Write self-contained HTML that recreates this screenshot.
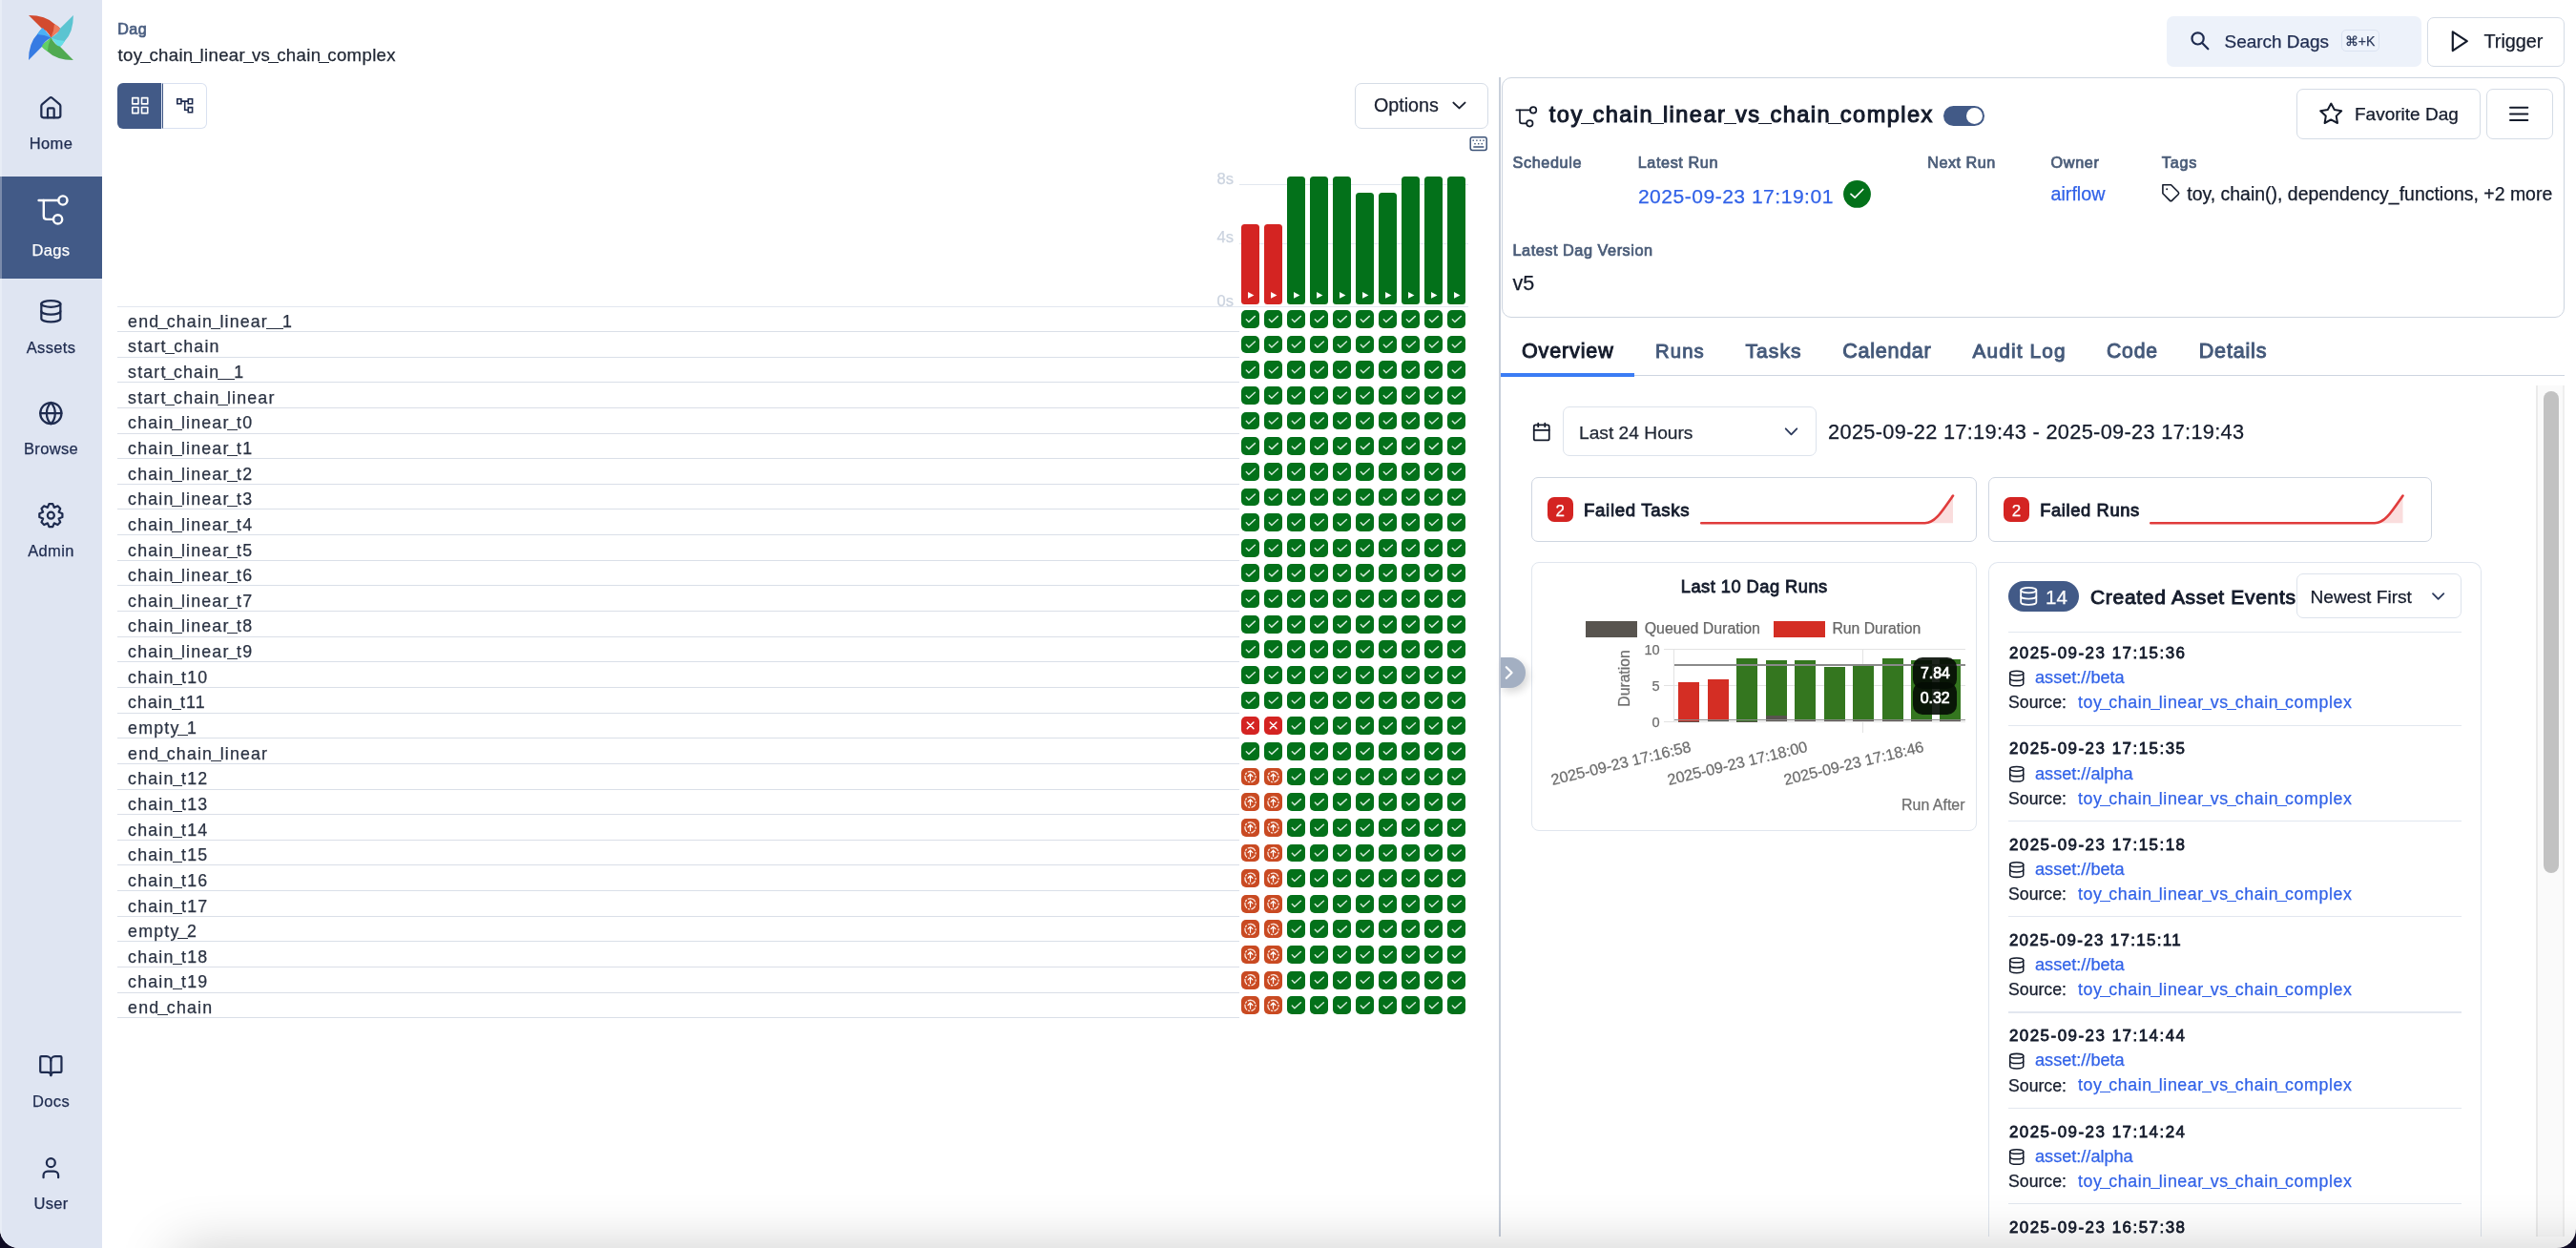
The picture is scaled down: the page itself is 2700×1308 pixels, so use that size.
<!DOCTYPE html><html><head><meta charset="utf-8"><style>
*{box-sizing:border-box;margin:0;padding:0}
html,body{width:2700px;height:1308px;overflow:hidden;background:#0e0b24}
body{font-family:"Liberation Sans",sans-serif;position:relative}
#root{position:absolute;left:0;top:0;width:2700px;height:1308px;background:#fff;overflow:hidden;border-radius:0 0 20px 20px;will-change:transform}
.a{position:absolute}
.t{position:absolute;white-space:nowrap;line-height:1;-webkit-text-stroke:0.25px currentColor}
svg.a{overflow:visible}
.u{display:inline-block;width:10.4px;height:0;border-bottom:1.45px solid currentColor;vertical-align:-1.8px;margin:0 -1.46px}
</style></head><body><div id="root">
<div class="a" style="left:0.00px;top:0.00px;width:107.00px;height:1308.00px;background:#dfe5f2"></div>
<div class="a" style="left:0.00px;top:185.00px;width:107.00px;height:106.50px;background:#425a87"></div>
<div class="a" style="left:0.00px;top:0.00px;width:1.50px;height:1308.00px;background:rgba(255,255,255,0.3)"></div>
<div class="t" style="left:-446.50px;width:1000px;text-align:center;top:142.00px;font-size:16.5px;color:#1e2b4f;letter-spacing:0.35px;">Home</div>
<div class="t" style="left:-446.50px;width:1000px;text-align:center;top:254.00px;font-size:16.5px;color:#ffffff;letter-spacing:0.35px;">Dags</div>
<div class="t" style="left:-446.50px;width:1000px;text-align:center;top:356.00px;font-size:16.5px;color:#1e2b4f;letter-spacing:0.35px;">Assets</div>
<div class="t" style="left:-446.50px;width:1000px;text-align:center;top:462.00px;font-size:16.5px;color:#1e2b4f;letter-spacing:0.35px;">Browse</div>
<div class="t" style="left:-446.50px;width:1000px;text-align:center;top:569.00px;font-size:16.5px;color:#1e2b4f;letter-spacing:0.35px;">Admin</div>
<div class="t" style="left:-446.50px;width:1000px;text-align:center;top:1146.00px;font-size:16.5px;color:#1e2b4f;letter-spacing:0.35px;">Docs</div>
<div class="t" style="left:-446.50px;width:1000px;text-align:center;top:1253.00px;font-size:16.5px;color:#1e2b4f;letter-spacing:0.35px;">User</div>
<div class="t" style="left:123.25px;top:22.00px;font-size:16.1px;color:#4a5e80;letter-spacing:0.440px;-webkit-text-stroke:0.72px #4a5e80;">Dag</div>
<div class="t" style="left:123.62px;top:49.00px;font-size:18.6px;color:#1f2633;letter-spacing:0.342px;-webkit-text-stroke:0.25px #1f2633;">toy<span class="u" style="width:10.86px;margin:0 -1.80px 0 -2.14px;border-bottom-width:1.49px;vertical-align:-1.86px"></span>chain<span class="u" style="width:10.86px;margin:0 -1.80px 0 -2.14px;border-bottom-width:1.49px;vertical-align:-1.86px"></span>linear<span class="u" style="width:10.86px;margin:0 -1.80px 0 -2.14px;border-bottom-width:1.49px;vertical-align:-1.86px"></span>vs<span class="u" style="width:10.86px;margin:0 -1.80px 0 -2.14px;border-bottom-width:1.49px;vertical-align:-1.86px"></span>chain<span class="u" style="width:10.86px;margin:0 -1.80px 0 -2.14px;border-bottom-width:1.49px;vertical-align:-1.86px"></span>complex</div>
<div class="a" style="left:123.25px;top:87.00px;width:45.75px;height:48.00px;background:#425a87;border-radius:6px 0 0 6px"></div>
<div class="a" style="left:169.00px;top:87.00px;width:1.00px;height:48.00px;background:#dfe6f4"></div>
<div class="a" style="left:170.00px;top:87.00px;width:46.50px;height:48.00px;border:1.33px solid #d9e1f0;border-left:1.4px solid #3e5685;border-radius:0 6px 6px 0"></div>
<div class="a" style="left:1420.25px;top:87.25px;width:139.50px;height:47.25px;border:1.33px solid #d5dce6;border-radius:7px"></div>
<div class="t" style="left:1440.00px;top:101.00px;font-size:19.7px;color:#1a2030;">Options</div>
<div class="t" style="right:1407.00px;top:179.00px;font-size:16.5px;color:#cbd3df;">8s</div>
<div class="a" style="left:1298.75px;top:192.58px;width:240.00px;height:1.34px;background:#e2e7ef"></div>
<div class="t" style="right:1407.00px;top:240.00px;font-size:16.5px;color:#cbd3df;">4s</div>
<div class="a" style="left:1298.75px;top:254.58px;width:240.00px;height:1.34px;background:#e2e7ef"></div>
<div class="t" style="right:1407.00px;top:307.00px;font-size:16.5px;color:#cbd3df;">0s</div>
<div class="a" style="left:123.00px;top:320.75px;width:1415.75px;height:1.35px;background:#e2e7ef"></div>
<div class="a" style="left:1301.25px;top:235.00px;width:18.75px;height:83.60px;background:#d42422;border-radius:3.5px"></div>
<div class="a" style="left:1325.25px;top:235.00px;width:18.75px;height:83.60px;background:#d42422;border-radius:3.5px"></div>
<div class="a" style="left:1349.25px;top:185.00px;width:18.75px;height:133.60px;background:#03711a;border-radius:3.5px"></div>
<div class="a" style="left:1373.25px;top:185.00px;width:18.75px;height:133.60px;background:#03711a;border-radius:3.5px"></div>
<div class="a" style="left:1397.25px;top:185.00px;width:18.75px;height:133.60px;background:#03711a;border-radius:3.5px"></div>
<div class="a" style="left:1421.25px;top:202.00px;width:18.75px;height:116.60px;background:#03711a;border-radius:3.5px"></div>
<div class="a" style="left:1445.25px;top:202.00px;width:18.75px;height:116.60px;background:#03711a;border-radius:3.5px"></div>
<div class="a" style="left:1469.25px;top:185.00px;width:18.75px;height:133.60px;background:#03711a;border-radius:3.5px"></div>
<div class="a" style="left:1493.25px;top:185.00px;width:18.75px;height:133.60px;background:#03711a;border-radius:3.5px"></div>
<div class="a" style="left:1517.25px;top:185.00px;width:18.75px;height:133.60px;background:#03711a;border-radius:3.5px"></div>
<div class="a" style="left:123.00px;top:347.00px;width:1175.80px;height:1.00px;background:#dadfe8"></div>
<div class="t" style="left:134.12px;top:329.00px;font-size:17.8px;color:#2a3242;letter-spacing:1.158px;-webkit-text-stroke:0.25px #2a3242;">end<span class="u" style="width:10.40px;margin:0 -0.89px 0 -2.05px;border-bottom-width:1.42px;vertical-align:-1.78px"></span>chain<span class="u" style="width:10.40px;margin:0 -0.89px 0 -2.05px;border-bottom-width:1.42px;vertical-align:-1.78px"></span>linear<span class="u" style="width:10.40px;margin:0 -0.89px 0 -2.05px;border-bottom-width:1.42px;vertical-align:-1.78px"></span><span class="u" style="width:10.40px;margin:0 -0.89px 0 -2.05px;border-bottom-width:1.42px;vertical-align:-1.78px"></span>1</div>
<div class="a" style="left:1301.00px;top:325.00px;width:18.90px;height:18.80px;background:#03711a;border-radius:5px"></div>
<div class="a" style="left:1325.00px;top:325.00px;width:18.90px;height:18.80px;background:#03711a;border-radius:5px"></div>
<div class="a" style="left:1349.00px;top:325.00px;width:18.90px;height:18.80px;background:#03711a;border-radius:5px"></div>
<div class="a" style="left:1373.00px;top:325.00px;width:18.90px;height:18.80px;background:#03711a;border-radius:5px"></div>
<div class="a" style="left:1397.00px;top:325.00px;width:18.90px;height:18.80px;background:#03711a;border-radius:5px"></div>
<div class="a" style="left:1421.00px;top:325.00px;width:18.90px;height:18.80px;background:#03711a;border-radius:5px"></div>
<div class="a" style="left:1445.00px;top:325.00px;width:18.90px;height:18.80px;background:#03711a;border-radius:5px"></div>
<div class="a" style="left:1469.00px;top:325.00px;width:18.90px;height:18.80px;background:#03711a;border-radius:5px"></div>
<div class="a" style="left:1493.00px;top:325.00px;width:18.90px;height:18.80px;background:#03711a;border-radius:5px"></div>
<div class="a" style="left:1517.00px;top:325.00px;width:18.90px;height:18.80px;background:#03711a;border-radius:5px"></div>
<div class="a" style="left:123.00px;top:374.00px;width:1175.80px;height:1.00px;background:#dadfe8"></div>
<div class="t" style="left:134.12px;top:355.00px;font-size:17.8px;color:#2a3242;letter-spacing:1.190px;-webkit-text-stroke:0.25px #2a3242;">start<span class="u" style="width:10.40px;margin:0 -0.86px 0 -2.05px;border-bottom-width:1.42px;vertical-align:-1.78px"></span>chain</div>
<div class="a" style="left:1301.00px;top:351.64px;width:18.90px;height:18.80px;background:#03711a;border-radius:5px"></div>
<div class="a" style="left:1325.00px;top:351.64px;width:18.90px;height:18.80px;background:#03711a;border-radius:5px"></div>
<div class="a" style="left:1349.00px;top:351.64px;width:18.90px;height:18.80px;background:#03711a;border-radius:5px"></div>
<div class="a" style="left:1373.00px;top:351.64px;width:18.90px;height:18.80px;background:#03711a;border-radius:5px"></div>
<div class="a" style="left:1397.00px;top:351.64px;width:18.90px;height:18.80px;background:#03711a;border-radius:5px"></div>
<div class="a" style="left:1421.00px;top:351.64px;width:18.90px;height:18.80px;background:#03711a;border-radius:5px"></div>
<div class="a" style="left:1445.00px;top:351.64px;width:18.90px;height:18.80px;background:#03711a;border-radius:5px"></div>
<div class="a" style="left:1469.00px;top:351.64px;width:18.90px;height:18.80px;background:#03711a;border-radius:5px"></div>
<div class="a" style="left:1493.00px;top:351.64px;width:18.90px;height:18.80px;background:#03711a;border-radius:5px"></div>
<div class="a" style="left:1517.00px;top:351.64px;width:18.90px;height:18.80px;background:#03711a;border-radius:5px"></div>
<div class="a" style="left:123.00px;top:400.00px;width:1175.80px;height:1.00px;background:#dadfe8"></div>
<div class="t" style="left:134.12px;top:382.00px;font-size:17.8px;color:#2a3242;letter-spacing:1.162px;-webkit-text-stroke:0.25px #2a3242;">start<span class="u" style="width:10.40px;margin:0 -0.88px 0 -2.05px;border-bottom-width:1.42px;vertical-align:-1.78px"></span>chain<span class="u" style="width:10.40px;margin:0 -0.88px 0 -2.05px;border-bottom-width:1.42px;vertical-align:-1.78px"></span><span class="u" style="width:10.40px;margin:0 -0.88px 0 -2.05px;border-bottom-width:1.42px;vertical-align:-1.78px"></span>1</div>
<div class="a" style="left:1301.00px;top:378.29px;width:18.90px;height:18.80px;background:#03711a;border-radius:5px"></div>
<div class="a" style="left:1325.00px;top:378.29px;width:18.90px;height:18.80px;background:#03711a;border-radius:5px"></div>
<div class="a" style="left:1349.00px;top:378.29px;width:18.90px;height:18.80px;background:#03711a;border-radius:5px"></div>
<div class="a" style="left:1373.00px;top:378.29px;width:18.90px;height:18.80px;background:#03711a;border-radius:5px"></div>
<div class="a" style="left:1397.00px;top:378.29px;width:18.90px;height:18.80px;background:#03711a;border-radius:5px"></div>
<div class="a" style="left:1421.00px;top:378.29px;width:18.90px;height:18.80px;background:#03711a;border-radius:5px"></div>
<div class="a" style="left:1445.00px;top:378.29px;width:18.90px;height:18.80px;background:#03711a;border-radius:5px"></div>
<div class="a" style="left:1469.00px;top:378.29px;width:18.90px;height:18.80px;background:#03711a;border-radius:5px"></div>
<div class="a" style="left:1493.00px;top:378.29px;width:18.90px;height:18.80px;background:#03711a;border-radius:5px"></div>
<div class="a" style="left:1517.00px;top:378.29px;width:18.90px;height:18.80px;background:#03711a;border-radius:5px"></div>
<div class="a" style="left:123.00px;top:427.00px;width:1175.80px;height:1.00px;background:#dadfe8"></div>
<div class="t" style="left:134.12px;top:409.00px;font-size:17.8px;color:#2a3242;letter-spacing:1.176px;-webkit-text-stroke:0.25px #2a3242;">start<span class="u" style="width:10.40px;margin:0 -0.87px 0 -2.05px;border-bottom-width:1.42px;vertical-align:-1.78px"></span>chain<span class="u" style="width:10.40px;margin:0 -0.87px 0 -2.05px;border-bottom-width:1.42px;vertical-align:-1.78px"></span>linear</div>
<div class="a" style="left:1301.00px;top:404.94px;width:18.90px;height:18.80px;background:#03711a;border-radius:5px"></div>
<div class="a" style="left:1325.00px;top:404.94px;width:18.90px;height:18.80px;background:#03711a;border-radius:5px"></div>
<div class="a" style="left:1349.00px;top:404.94px;width:18.90px;height:18.80px;background:#03711a;border-radius:5px"></div>
<div class="a" style="left:1373.00px;top:404.94px;width:18.90px;height:18.80px;background:#03711a;border-radius:5px"></div>
<div class="a" style="left:1397.00px;top:404.94px;width:18.90px;height:18.80px;background:#03711a;border-radius:5px"></div>
<div class="a" style="left:1421.00px;top:404.94px;width:18.90px;height:18.80px;background:#03711a;border-radius:5px"></div>
<div class="a" style="left:1445.00px;top:404.94px;width:18.90px;height:18.80px;background:#03711a;border-radius:5px"></div>
<div class="a" style="left:1469.00px;top:404.94px;width:18.90px;height:18.80px;background:#03711a;border-radius:5px"></div>
<div class="a" style="left:1493.00px;top:404.94px;width:18.90px;height:18.80px;background:#03711a;border-radius:5px"></div>
<div class="a" style="left:1517.00px;top:404.94px;width:18.90px;height:18.80px;background:#03711a;border-radius:5px"></div>
<div class="a" style="left:123.00px;top:454.00px;width:1175.80px;height:1.00px;background:#dadfe8"></div>
<div class="t" style="left:134.12px;top:435.00px;font-size:17.8px;color:#2a3242;letter-spacing:1.175px;-webkit-text-stroke:0.25px #2a3242;">chain<span class="u" style="width:10.40px;margin:0 -0.87px 0 -2.05px;border-bottom-width:1.42px;vertical-align:-1.78px"></span>linear<span class="u" style="width:10.40px;margin:0 -0.87px 0 -2.05px;border-bottom-width:1.42px;vertical-align:-1.78px"></span>t0</div>
<div class="a" style="left:1301.00px;top:431.58px;width:18.90px;height:18.80px;background:#03711a;border-radius:5px"></div>
<div class="a" style="left:1325.00px;top:431.58px;width:18.90px;height:18.80px;background:#03711a;border-radius:5px"></div>
<div class="a" style="left:1349.00px;top:431.58px;width:18.90px;height:18.80px;background:#03711a;border-radius:5px"></div>
<div class="a" style="left:1373.00px;top:431.58px;width:18.90px;height:18.80px;background:#03711a;border-radius:5px"></div>
<div class="a" style="left:1397.00px;top:431.58px;width:18.90px;height:18.80px;background:#03711a;border-radius:5px"></div>
<div class="a" style="left:1421.00px;top:431.58px;width:18.90px;height:18.80px;background:#03711a;border-radius:5px"></div>
<div class="a" style="left:1445.00px;top:431.58px;width:18.90px;height:18.80px;background:#03711a;border-radius:5px"></div>
<div class="a" style="left:1469.00px;top:431.58px;width:18.90px;height:18.80px;background:#03711a;border-radius:5px"></div>
<div class="a" style="left:1493.00px;top:431.58px;width:18.90px;height:18.80px;background:#03711a;border-radius:5px"></div>
<div class="a" style="left:1517.00px;top:431.58px;width:18.90px;height:18.80px;background:#03711a;border-radius:5px"></div>
<div class="a" style="left:123.00px;top:480.00px;width:1175.80px;height:1.00px;background:#dadfe8"></div>
<div class="t" style="left:134.12px;top:462.00px;font-size:17.8px;color:#2a3242;letter-spacing:1.175px;-webkit-text-stroke:0.25px #2a3242;">chain<span class="u" style="width:10.40px;margin:0 -0.87px 0 -2.05px;border-bottom-width:1.42px;vertical-align:-1.78px"></span>linear<span class="u" style="width:10.40px;margin:0 -0.87px 0 -2.05px;border-bottom-width:1.42px;vertical-align:-1.78px"></span>t1</div>
<div class="a" style="left:1301.00px;top:458.23px;width:18.90px;height:18.80px;background:#03711a;border-radius:5px"></div>
<div class="a" style="left:1325.00px;top:458.23px;width:18.90px;height:18.80px;background:#03711a;border-radius:5px"></div>
<div class="a" style="left:1349.00px;top:458.23px;width:18.90px;height:18.80px;background:#03711a;border-radius:5px"></div>
<div class="a" style="left:1373.00px;top:458.23px;width:18.90px;height:18.80px;background:#03711a;border-radius:5px"></div>
<div class="a" style="left:1397.00px;top:458.23px;width:18.90px;height:18.80px;background:#03711a;border-radius:5px"></div>
<div class="a" style="left:1421.00px;top:458.23px;width:18.90px;height:18.80px;background:#03711a;border-radius:5px"></div>
<div class="a" style="left:1445.00px;top:458.23px;width:18.90px;height:18.80px;background:#03711a;border-radius:5px"></div>
<div class="a" style="left:1469.00px;top:458.23px;width:18.90px;height:18.80px;background:#03711a;border-radius:5px"></div>
<div class="a" style="left:1493.00px;top:458.23px;width:18.90px;height:18.80px;background:#03711a;border-radius:5px"></div>
<div class="a" style="left:1517.00px;top:458.23px;width:18.90px;height:18.80px;background:#03711a;border-radius:5px"></div>
<div class="a" style="left:123.00px;top:507.00px;width:1175.80px;height:1.00px;background:#dadfe8"></div>
<div class="t" style="left:134.12px;top:489.00px;font-size:17.8px;color:#2a3242;letter-spacing:1.175px;-webkit-text-stroke:0.25px #2a3242;">chain<span class="u" style="width:10.40px;margin:0 -0.87px 0 -2.05px;border-bottom-width:1.42px;vertical-align:-1.78px"></span>linear<span class="u" style="width:10.40px;margin:0 -0.87px 0 -2.05px;border-bottom-width:1.42px;vertical-align:-1.78px"></span>t2</div>
<div class="a" style="left:1301.00px;top:484.87px;width:18.90px;height:18.80px;background:#03711a;border-radius:5px"></div>
<div class="a" style="left:1325.00px;top:484.87px;width:18.90px;height:18.80px;background:#03711a;border-radius:5px"></div>
<div class="a" style="left:1349.00px;top:484.87px;width:18.90px;height:18.80px;background:#03711a;border-radius:5px"></div>
<div class="a" style="left:1373.00px;top:484.87px;width:18.90px;height:18.80px;background:#03711a;border-radius:5px"></div>
<div class="a" style="left:1397.00px;top:484.87px;width:18.90px;height:18.80px;background:#03711a;border-radius:5px"></div>
<div class="a" style="left:1421.00px;top:484.87px;width:18.90px;height:18.80px;background:#03711a;border-radius:5px"></div>
<div class="a" style="left:1445.00px;top:484.87px;width:18.90px;height:18.80px;background:#03711a;border-radius:5px"></div>
<div class="a" style="left:1469.00px;top:484.87px;width:18.90px;height:18.80px;background:#03711a;border-radius:5px"></div>
<div class="a" style="left:1493.00px;top:484.87px;width:18.90px;height:18.80px;background:#03711a;border-radius:5px"></div>
<div class="a" style="left:1517.00px;top:484.87px;width:18.90px;height:18.80px;background:#03711a;border-radius:5px"></div>
<div class="a" style="left:123.00px;top:533.00px;width:1175.80px;height:1.00px;background:#dadfe8"></div>
<div class="t" style="left:134.12px;top:515.00px;font-size:17.8px;color:#2a3242;letter-spacing:1.175px;-webkit-text-stroke:0.25px #2a3242;">chain<span class="u" style="width:10.40px;margin:0 -0.87px 0 -2.05px;border-bottom-width:1.42px;vertical-align:-1.78px"></span>linear<span class="u" style="width:10.40px;margin:0 -0.87px 0 -2.05px;border-bottom-width:1.42px;vertical-align:-1.78px"></span>t3</div>
<div class="a" style="left:1301.00px;top:511.51px;width:18.90px;height:18.80px;background:#03711a;border-radius:5px"></div>
<div class="a" style="left:1325.00px;top:511.51px;width:18.90px;height:18.80px;background:#03711a;border-radius:5px"></div>
<div class="a" style="left:1349.00px;top:511.51px;width:18.90px;height:18.80px;background:#03711a;border-radius:5px"></div>
<div class="a" style="left:1373.00px;top:511.51px;width:18.90px;height:18.80px;background:#03711a;border-radius:5px"></div>
<div class="a" style="left:1397.00px;top:511.51px;width:18.90px;height:18.80px;background:#03711a;border-radius:5px"></div>
<div class="a" style="left:1421.00px;top:511.51px;width:18.90px;height:18.80px;background:#03711a;border-radius:5px"></div>
<div class="a" style="left:1445.00px;top:511.51px;width:18.90px;height:18.80px;background:#03711a;border-radius:5px"></div>
<div class="a" style="left:1469.00px;top:511.51px;width:18.90px;height:18.80px;background:#03711a;border-radius:5px"></div>
<div class="a" style="left:1493.00px;top:511.51px;width:18.90px;height:18.80px;background:#03711a;border-radius:5px"></div>
<div class="a" style="left:1517.00px;top:511.51px;width:18.90px;height:18.80px;background:#03711a;border-radius:5px"></div>
<div class="a" style="left:123.00px;top:560.00px;width:1175.80px;height:1.00px;background:#dadfe8"></div>
<div class="t" style="left:134.12px;top:542.00px;font-size:17.8px;color:#2a3242;letter-spacing:1.175px;-webkit-text-stroke:0.25px #2a3242;">chain<span class="u" style="width:10.40px;margin:0 -0.87px 0 -2.05px;border-bottom-width:1.42px;vertical-align:-1.78px"></span>linear<span class="u" style="width:10.40px;margin:0 -0.87px 0 -2.05px;border-bottom-width:1.42px;vertical-align:-1.78px"></span>t4</div>
<div class="a" style="left:1301.00px;top:538.16px;width:18.90px;height:18.80px;background:#03711a;border-radius:5px"></div>
<div class="a" style="left:1325.00px;top:538.16px;width:18.90px;height:18.80px;background:#03711a;border-radius:5px"></div>
<div class="a" style="left:1349.00px;top:538.16px;width:18.90px;height:18.80px;background:#03711a;border-radius:5px"></div>
<div class="a" style="left:1373.00px;top:538.16px;width:18.90px;height:18.80px;background:#03711a;border-radius:5px"></div>
<div class="a" style="left:1397.00px;top:538.16px;width:18.90px;height:18.80px;background:#03711a;border-radius:5px"></div>
<div class="a" style="left:1421.00px;top:538.16px;width:18.90px;height:18.80px;background:#03711a;border-radius:5px"></div>
<div class="a" style="left:1445.00px;top:538.16px;width:18.90px;height:18.80px;background:#03711a;border-radius:5px"></div>
<div class="a" style="left:1469.00px;top:538.16px;width:18.90px;height:18.80px;background:#03711a;border-radius:5px"></div>
<div class="a" style="left:1493.00px;top:538.16px;width:18.90px;height:18.80px;background:#03711a;border-radius:5px"></div>
<div class="a" style="left:1517.00px;top:538.16px;width:18.90px;height:18.80px;background:#03711a;border-radius:5px"></div>
<div class="a" style="left:123.00px;top:587.00px;width:1175.80px;height:1.00px;background:#dadfe8"></div>
<div class="t" style="left:134.12px;top:569.00px;font-size:17.8px;color:#2a3242;letter-spacing:1.175px;-webkit-text-stroke:0.25px #2a3242;">chain<span class="u" style="width:10.40px;margin:0 -0.87px 0 -2.05px;border-bottom-width:1.42px;vertical-align:-1.78px"></span>linear<span class="u" style="width:10.40px;margin:0 -0.87px 0 -2.05px;border-bottom-width:1.42px;vertical-align:-1.78px"></span>t5</div>
<div class="a" style="left:1301.00px;top:564.80px;width:18.90px;height:18.80px;background:#03711a;border-radius:5px"></div>
<div class="a" style="left:1325.00px;top:564.80px;width:18.90px;height:18.80px;background:#03711a;border-radius:5px"></div>
<div class="a" style="left:1349.00px;top:564.80px;width:18.90px;height:18.80px;background:#03711a;border-radius:5px"></div>
<div class="a" style="left:1373.00px;top:564.80px;width:18.90px;height:18.80px;background:#03711a;border-radius:5px"></div>
<div class="a" style="left:1397.00px;top:564.80px;width:18.90px;height:18.80px;background:#03711a;border-radius:5px"></div>
<div class="a" style="left:1421.00px;top:564.80px;width:18.90px;height:18.80px;background:#03711a;border-radius:5px"></div>
<div class="a" style="left:1445.00px;top:564.80px;width:18.90px;height:18.80px;background:#03711a;border-radius:5px"></div>
<div class="a" style="left:1469.00px;top:564.80px;width:18.90px;height:18.80px;background:#03711a;border-radius:5px"></div>
<div class="a" style="left:1493.00px;top:564.80px;width:18.90px;height:18.80px;background:#03711a;border-radius:5px"></div>
<div class="a" style="left:1517.00px;top:564.80px;width:18.90px;height:18.80px;background:#03711a;border-radius:5px"></div>
<div class="a" style="left:123.00px;top:613.00px;width:1175.80px;height:1.00px;background:#dadfe8"></div>
<div class="t" style="left:134.12px;top:595.00px;font-size:17.8px;color:#2a3242;letter-spacing:1.175px;-webkit-text-stroke:0.25px #2a3242;">chain<span class="u" style="width:10.40px;margin:0 -0.87px 0 -2.05px;border-bottom-width:1.42px;vertical-align:-1.78px"></span>linear<span class="u" style="width:10.40px;margin:0 -0.87px 0 -2.05px;border-bottom-width:1.42px;vertical-align:-1.78px"></span>t6</div>
<div class="a" style="left:1301.00px;top:591.45px;width:18.90px;height:18.80px;background:#03711a;border-radius:5px"></div>
<div class="a" style="left:1325.00px;top:591.45px;width:18.90px;height:18.80px;background:#03711a;border-radius:5px"></div>
<div class="a" style="left:1349.00px;top:591.45px;width:18.90px;height:18.80px;background:#03711a;border-radius:5px"></div>
<div class="a" style="left:1373.00px;top:591.45px;width:18.90px;height:18.80px;background:#03711a;border-radius:5px"></div>
<div class="a" style="left:1397.00px;top:591.45px;width:18.90px;height:18.80px;background:#03711a;border-radius:5px"></div>
<div class="a" style="left:1421.00px;top:591.45px;width:18.90px;height:18.80px;background:#03711a;border-radius:5px"></div>
<div class="a" style="left:1445.00px;top:591.45px;width:18.90px;height:18.80px;background:#03711a;border-radius:5px"></div>
<div class="a" style="left:1469.00px;top:591.45px;width:18.90px;height:18.80px;background:#03711a;border-radius:5px"></div>
<div class="a" style="left:1493.00px;top:591.45px;width:18.90px;height:18.80px;background:#03711a;border-radius:5px"></div>
<div class="a" style="left:1517.00px;top:591.45px;width:18.90px;height:18.80px;background:#03711a;border-radius:5px"></div>
<div class="a" style="left:123.00px;top:640.00px;width:1175.80px;height:1.00px;background:#dadfe8"></div>
<div class="t" style="left:134.12px;top:622.00px;font-size:17.8px;color:#2a3242;letter-spacing:1.175px;-webkit-text-stroke:0.25px #2a3242;">chain<span class="u" style="width:10.40px;margin:0 -0.87px 0 -2.05px;border-bottom-width:1.42px;vertical-align:-1.78px"></span>linear<span class="u" style="width:10.40px;margin:0 -0.87px 0 -2.05px;border-bottom-width:1.42px;vertical-align:-1.78px"></span>t7</div>
<div class="a" style="left:1301.00px;top:618.09px;width:18.90px;height:18.80px;background:#03711a;border-radius:5px"></div>
<div class="a" style="left:1325.00px;top:618.09px;width:18.90px;height:18.80px;background:#03711a;border-radius:5px"></div>
<div class="a" style="left:1349.00px;top:618.09px;width:18.90px;height:18.80px;background:#03711a;border-radius:5px"></div>
<div class="a" style="left:1373.00px;top:618.09px;width:18.90px;height:18.80px;background:#03711a;border-radius:5px"></div>
<div class="a" style="left:1397.00px;top:618.09px;width:18.90px;height:18.80px;background:#03711a;border-radius:5px"></div>
<div class="a" style="left:1421.00px;top:618.09px;width:18.90px;height:18.80px;background:#03711a;border-radius:5px"></div>
<div class="a" style="left:1445.00px;top:618.09px;width:18.90px;height:18.80px;background:#03711a;border-radius:5px"></div>
<div class="a" style="left:1469.00px;top:618.09px;width:18.90px;height:18.80px;background:#03711a;border-radius:5px"></div>
<div class="a" style="left:1493.00px;top:618.09px;width:18.90px;height:18.80px;background:#03711a;border-radius:5px"></div>
<div class="a" style="left:1517.00px;top:618.09px;width:18.90px;height:18.80px;background:#03711a;border-radius:5px"></div>
<div class="a" style="left:123.00px;top:667.00px;width:1175.80px;height:1.00px;background:#dadfe8"></div>
<div class="t" style="left:134.12px;top:648.00px;font-size:17.8px;color:#2a3242;letter-spacing:1.175px;-webkit-text-stroke:0.25px #2a3242;">chain<span class="u" style="width:10.40px;margin:0 -0.87px 0 -2.05px;border-bottom-width:1.42px;vertical-align:-1.78px"></span>linear<span class="u" style="width:10.40px;margin:0 -0.87px 0 -2.05px;border-bottom-width:1.42px;vertical-align:-1.78px"></span>t8</div>
<div class="a" style="left:1301.00px;top:644.74px;width:18.90px;height:18.80px;background:#03711a;border-radius:5px"></div>
<div class="a" style="left:1325.00px;top:644.74px;width:18.90px;height:18.80px;background:#03711a;border-radius:5px"></div>
<div class="a" style="left:1349.00px;top:644.74px;width:18.90px;height:18.80px;background:#03711a;border-radius:5px"></div>
<div class="a" style="left:1373.00px;top:644.74px;width:18.90px;height:18.80px;background:#03711a;border-radius:5px"></div>
<div class="a" style="left:1397.00px;top:644.74px;width:18.90px;height:18.80px;background:#03711a;border-radius:5px"></div>
<div class="a" style="left:1421.00px;top:644.74px;width:18.90px;height:18.80px;background:#03711a;border-radius:5px"></div>
<div class="a" style="left:1445.00px;top:644.74px;width:18.90px;height:18.80px;background:#03711a;border-radius:5px"></div>
<div class="a" style="left:1469.00px;top:644.74px;width:18.90px;height:18.80px;background:#03711a;border-radius:5px"></div>
<div class="a" style="left:1493.00px;top:644.74px;width:18.90px;height:18.80px;background:#03711a;border-radius:5px"></div>
<div class="a" style="left:1517.00px;top:644.74px;width:18.90px;height:18.80px;background:#03711a;border-radius:5px"></div>
<div class="a" style="left:123.00px;top:693.00px;width:1175.80px;height:1.00px;background:#dadfe8"></div>
<div class="t" style="left:134.12px;top:675.00px;font-size:17.8px;color:#2a3242;letter-spacing:1.175px;-webkit-text-stroke:0.25px #2a3242;">chain<span class="u" style="width:10.40px;margin:0 -0.87px 0 -2.05px;border-bottom-width:1.42px;vertical-align:-1.78px"></span>linear<span class="u" style="width:10.40px;margin:0 -0.87px 0 -2.05px;border-bottom-width:1.42px;vertical-align:-1.78px"></span>t9</div>
<div class="a" style="left:1301.00px;top:671.38px;width:18.90px;height:18.80px;background:#03711a;border-radius:5px"></div>
<div class="a" style="left:1325.00px;top:671.38px;width:18.90px;height:18.80px;background:#03711a;border-radius:5px"></div>
<div class="a" style="left:1349.00px;top:671.38px;width:18.90px;height:18.80px;background:#03711a;border-radius:5px"></div>
<div class="a" style="left:1373.00px;top:671.38px;width:18.90px;height:18.80px;background:#03711a;border-radius:5px"></div>
<div class="a" style="left:1397.00px;top:671.38px;width:18.90px;height:18.80px;background:#03711a;border-radius:5px"></div>
<div class="a" style="left:1421.00px;top:671.38px;width:18.90px;height:18.80px;background:#03711a;border-radius:5px"></div>
<div class="a" style="left:1445.00px;top:671.38px;width:18.90px;height:18.80px;background:#03711a;border-radius:5px"></div>
<div class="a" style="left:1469.00px;top:671.38px;width:18.90px;height:18.80px;background:#03711a;border-radius:5px"></div>
<div class="a" style="left:1493.00px;top:671.38px;width:18.90px;height:18.80px;background:#03711a;border-radius:5px"></div>
<div class="a" style="left:1517.00px;top:671.38px;width:18.90px;height:18.80px;background:#03711a;border-radius:5px"></div>
<div class="a" style="left:123.00px;top:720.00px;width:1175.80px;height:1.00px;background:#dadfe8"></div>
<div class="t" style="left:134.12px;top:702.00px;font-size:17.8px;color:#2a3242;letter-spacing:1.192px;-webkit-text-stroke:0.25px #2a3242;">chain<span class="u" style="width:10.40px;margin:0 -0.86px 0 -2.05px;border-bottom-width:1.42px;vertical-align:-1.78px"></span>t10</div>
<div class="a" style="left:1301.00px;top:698.03px;width:18.90px;height:18.80px;background:#03711a;border-radius:5px"></div>
<div class="a" style="left:1325.00px;top:698.03px;width:18.90px;height:18.80px;background:#03711a;border-radius:5px"></div>
<div class="a" style="left:1349.00px;top:698.03px;width:18.90px;height:18.80px;background:#03711a;border-radius:5px"></div>
<div class="a" style="left:1373.00px;top:698.03px;width:18.90px;height:18.80px;background:#03711a;border-radius:5px"></div>
<div class="a" style="left:1397.00px;top:698.03px;width:18.90px;height:18.80px;background:#03711a;border-radius:5px"></div>
<div class="a" style="left:1421.00px;top:698.03px;width:18.90px;height:18.80px;background:#03711a;border-radius:5px"></div>
<div class="a" style="left:1445.00px;top:698.03px;width:18.90px;height:18.80px;background:#03711a;border-radius:5px"></div>
<div class="a" style="left:1469.00px;top:698.03px;width:18.90px;height:18.80px;background:#03711a;border-radius:5px"></div>
<div class="a" style="left:1493.00px;top:698.03px;width:18.90px;height:18.80px;background:#03711a;border-radius:5px"></div>
<div class="a" style="left:1517.00px;top:698.03px;width:18.90px;height:18.80px;background:#03711a;border-radius:5px"></div>
<div class="a" style="left:123.00px;top:747.00px;width:1175.80px;height:1.00px;background:#dadfe8"></div>
<div class="t" style="left:134.12px;top:728.00px;font-size:17.8px;color:#2a3242;letter-spacing:1.027px;-webkit-text-stroke:0.25px #2a3242;">chain<span class="u" style="width:10.40px;margin:0 -1.02px 0 -2.05px;border-bottom-width:1.42px;vertical-align:-1.78px"></span>t11</div>
<div class="a" style="left:1301.00px;top:724.68px;width:18.90px;height:18.80px;background:#03711a;border-radius:5px"></div>
<div class="a" style="left:1325.00px;top:724.68px;width:18.90px;height:18.80px;background:#03711a;border-radius:5px"></div>
<div class="a" style="left:1349.00px;top:724.68px;width:18.90px;height:18.80px;background:#03711a;border-radius:5px"></div>
<div class="a" style="left:1373.00px;top:724.68px;width:18.90px;height:18.80px;background:#03711a;border-radius:5px"></div>
<div class="a" style="left:1397.00px;top:724.68px;width:18.90px;height:18.80px;background:#03711a;border-radius:5px"></div>
<div class="a" style="left:1421.00px;top:724.68px;width:18.90px;height:18.80px;background:#03711a;border-radius:5px"></div>
<div class="a" style="left:1445.00px;top:724.68px;width:18.90px;height:18.80px;background:#03711a;border-radius:5px"></div>
<div class="a" style="left:1469.00px;top:724.68px;width:18.90px;height:18.80px;background:#03711a;border-radius:5px"></div>
<div class="a" style="left:1493.00px;top:724.68px;width:18.90px;height:18.80px;background:#03711a;border-radius:5px"></div>
<div class="a" style="left:1517.00px;top:724.68px;width:18.90px;height:18.80px;background:#03711a;border-radius:5px"></div>
<div class="a" style="left:123.00px;top:773.00px;width:1175.80px;height:1.00px;background:#dadfe8"></div>
<div class="t" style="left:134.12px;top:755.00px;font-size:17.8px;color:#2a3242;letter-spacing:1.194px;-webkit-text-stroke:0.25px #2a3242;">empty<span class="u" style="width:10.40px;margin:0 -0.85px 0 -2.05px;border-bottom-width:1.42px;vertical-align:-1.78px"></span>1</div>
<div class="a" style="left:1301.00px;top:751.32px;width:18.90px;height:18.80px;background:#d42422;border-radius:5px"></div>
<div class="a" style="left:1325.00px;top:751.32px;width:18.90px;height:18.80px;background:#d42422;border-radius:5px"></div>
<div class="a" style="left:1349.00px;top:751.32px;width:18.90px;height:18.80px;background:#03711a;border-radius:5px"></div>
<div class="a" style="left:1373.00px;top:751.32px;width:18.90px;height:18.80px;background:#03711a;border-radius:5px"></div>
<div class="a" style="left:1397.00px;top:751.32px;width:18.90px;height:18.80px;background:#03711a;border-radius:5px"></div>
<div class="a" style="left:1421.00px;top:751.32px;width:18.90px;height:18.80px;background:#03711a;border-radius:5px"></div>
<div class="a" style="left:1445.00px;top:751.32px;width:18.90px;height:18.80px;background:#03711a;border-radius:5px"></div>
<div class="a" style="left:1469.00px;top:751.32px;width:18.90px;height:18.80px;background:#03711a;border-radius:5px"></div>
<div class="a" style="left:1493.00px;top:751.32px;width:18.90px;height:18.80px;background:#03711a;border-radius:5px"></div>
<div class="a" style="left:1517.00px;top:751.32px;width:18.90px;height:18.80px;background:#03711a;border-radius:5px"></div>
<div class="a" style="left:123.00px;top:800.00px;width:1175.80px;height:1.00px;background:#dadfe8"></div>
<div class="t" style="left:134.12px;top:782.00px;font-size:17.8px;color:#2a3242;letter-spacing:1.175px;-webkit-text-stroke:0.25px #2a3242;">end<span class="u" style="width:10.40px;margin:0 -0.87px 0 -2.05px;border-bottom-width:1.42px;vertical-align:-1.78px"></span>chain<span class="u" style="width:10.40px;margin:0 -0.87px 0 -2.05px;border-bottom-width:1.42px;vertical-align:-1.78px"></span>linear</div>
<div class="a" style="left:1301.00px;top:777.97px;width:18.90px;height:18.80px;background:#03711a;border-radius:5px"></div>
<div class="a" style="left:1325.00px;top:777.97px;width:18.90px;height:18.80px;background:#03711a;border-radius:5px"></div>
<div class="a" style="left:1349.00px;top:777.97px;width:18.90px;height:18.80px;background:#03711a;border-radius:5px"></div>
<div class="a" style="left:1373.00px;top:777.97px;width:18.90px;height:18.80px;background:#03711a;border-radius:5px"></div>
<div class="a" style="left:1397.00px;top:777.97px;width:18.90px;height:18.80px;background:#03711a;border-radius:5px"></div>
<div class="a" style="left:1421.00px;top:777.97px;width:18.90px;height:18.80px;background:#03711a;border-radius:5px"></div>
<div class="a" style="left:1445.00px;top:777.97px;width:18.90px;height:18.80px;background:#03711a;border-radius:5px"></div>
<div class="a" style="left:1469.00px;top:777.97px;width:18.90px;height:18.80px;background:#03711a;border-radius:5px"></div>
<div class="a" style="left:1493.00px;top:777.97px;width:18.90px;height:18.80px;background:#03711a;border-radius:5px"></div>
<div class="a" style="left:1517.00px;top:777.97px;width:18.90px;height:18.80px;background:#03711a;border-radius:5px"></div>
<div class="a" style="left:123.00px;top:827.00px;width:1175.80px;height:1.00px;background:#dadfe8"></div>
<div class="t" style="left:134.12px;top:808.00px;font-size:17.8px;color:#2a3242;letter-spacing:1.192px;-webkit-text-stroke:0.25px #2a3242;">chain<span class="u" style="width:10.40px;margin:0 -0.86px 0 -2.05px;border-bottom-width:1.42px;vertical-align:-1.78px"></span>t12</div>
<div class="a" style="left:1301.00px;top:804.61px;width:18.90px;height:18.80px;background:#c94a22;border-radius:5px"></div>
<div class="a" style="left:1325.00px;top:804.61px;width:18.90px;height:18.80px;background:#c94a22;border-radius:5px"></div>
<div class="a" style="left:1349.00px;top:804.61px;width:18.90px;height:18.80px;background:#03711a;border-radius:5px"></div>
<div class="a" style="left:1373.00px;top:804.61px;width:18.90px;height:18.80px;background:#03711a;border-radius:5px"></div>
<div class="a" style="left:1397.00px;top:804.61px;width:18.90px;height:18.80px;background:#03711a;border-radius:5px"></div>
<div class="a" style="left:1421.00px;top:804.61px;width:18.90px;height:18.80px;background:#03711a;border-radius:5px"></div>
<div class="a" style="left:1445.00px;top:804.61px;width:18.90px;height:18.80px;background:#03711a;border-radius:5px"></div>
<div class="a" style="left:1469.00px;top:804.61px;width:18.90px;height:18.80px;background:#03711a;border-radius:5px"></div>
<div class="a" style="left:1493.00px;top:804.61px;width:18.90px;height:18.80px;background:#03711a;border-radius:5px"></div>
<div class="a" style="left:1517.00px;top:804.61px;width:18.90px;height:18.80px;background:#03711a;border-radius:5px"></div>
<div class="a" style="left:123.00px;top:853.00px;width:1175.80px;height:1.00px;background:#dadfe8"></div>
<div class="t" style="left:134.12px;top:835.00px;font-size:17.8px;color:#2a3242;letter-spacing:1.192px;-webkit-text-stroke:0.25px #2a3242;">chain<span class="u" style="width:10.40px;margin:0 -0.86px 0 -2.05px;border-bottom-width:1.42px;vertical-align:-1.78px"></span>t13</div>
<div class="a" style="left:1301.00px;top:831.25px;width:18.90px;height:18.80px;background:#c94a22;border-radius:5px"></div>
<div class="a" style="left:1325.00px;top:831.25px;width:18.90px;height:18.80px;background:#c94a22;border-radius:5px"></div>
<div class="a" style="left:1349.00px;top:831.25px;width:18.90px;height:18.80px;background:#03711a;border-radius:5px"></div>
<div class="a" style="left:1373.00px;top:831.25px;width:18.90px;height:18.80px;background:#03711a;border-radius:5px"></div>
<div class="a" style="left:1397.00px;top:831.25px;width:18.90px;height:18.80px;background:#03711a;border-radius:5px"></div>
<div class="a" style="left:1421.00px;top:831.25px;width:18.90px;height:18.80px;background:#03711a;border-radius:5px"></div>
<div class="a" style="left:1445.00px;top:831.25px;width:18.90px;height:18.80px;background:#03711a;border-radius:5px"></div>
<div class="a" style="left:1469.00px;top:831.25px;width:18.90px;height:18.80px;background:#03711a;border-radius:5px"></div>
<div class="a" style="left:1493.00px;top:831.25px;width:18.90px;height:18.80px;background:#03711a;border-radius:5px"></div>
<div class="a" style="left:1517.00px;top:831.25px;width:18.90px;height:18.80px;background:#03711a;border-radius:5px"></div>
<div class="a" style="left:123.00px;top:880.00px;width:1175.80px;height:1.00px;background:#dadfe8"></div>
<div class="t" style="left:134.12px;top:862.00px;font-size:17.8px;color:#2a3242;letter-spacing:1.192px;-webkit-text-stroke:0.25px #2a3242;">chain<span class="u" style="width:10.40px;margin:0 -0.86px 0 -2.05px;border-bottom-width:1.42px;vertical-align:-1.78px"></span>t14</div>
<div class="a" style="left:1301.00px;top:857.90px;width:18.90px;height:18.80px;background:#c94a22;border-radius:5px"></div>
<div class="a" style="left:1325.00px;top:857.90px;width:18.90px;height:18.80px;background:#c94a22;border-radius:5px"></div>
<div class="a" style="left:1349.00px;top:857.90px;width:18.90px;height:18.80px;background:#03711a;border-radius:5px"></div>
<div class="a" style="left:1373.00px;top:857.90px;width:18.90px;height:18.80px;background:#03711a;border-radius:5px"></div>
<div class="a" style="left:1397.00px;top:857.90px;width:18.90px;height:18.80px;background:#03711a;border-radius:5px"></div>
<div class="a" style="left:1421.00px;top:857.90px;width:18.90px;height:18.80px;background:#03711a;border-radius:5px"></div>
<div class="a" style="left:1445.00px;top:857.90px;width:18.90px;height:18.80px;background:#03711a;border-radius:5px"></div>
<div class="a" style="left:1469.00px;top:857.90px;width:18.90px;height:18.80px;background:#03711a;border-radius:5px"></div>
<div class="a" style="left:1493.00px;top:857.90px;width:18.90px;height:18.80px;background:#03711a;border-radius:5px"></div>
<div class="a" style="left:1517.00px;top:857.90px;width:18.90px;height:18.80px;background:#03711a;border-radius:5px"></div>
<div class="a" style="left:123.00px;top:906.00px;width:1175.80px;height:1.00px;background:#dadfe8"></div>
<div class="t" style="left:134.12px;top:888.00px;font-size:17.8px;color:#2a3242;letter-spacing:1.192px;-webkit-text-stroke:0.25px #2a3242;">chain<span class="u" style="width:10.40px;margin:0 -0.86px 0 -2.05px;border-bottom-width:1.42px;vertical-align:-1.78px"></span>t15</div>
<div class="a" style="left:1301.00px;top:884.54px;width:18.90px;height:18.80px;background:#c94a22;border-radius:5px"></div>
<div class="a" style="left:1325.00px;top:884.54px;width:18.90px;height:18.80px;background:#c94a22;border-radius:5px"></div>
<div class="a" style="left:1349.00px;top:884.54px;width:18.90px;height:18.80px;background:#03711a;border-radius:5px"></div>
<div class="a" style="left:1373.00px;top:884.54px;width:18.90px;height:18.80px;background:#03711a;border-radius:5px"></div>
<div class="a" style="left:1397.00px;top:884.54px;width:18.90px;height:18.80px;background:#03711a;border-radius:5px"></div>
<div class="a" style="left:1421.00px;top:884.54px;width:18.90px;height:18.80px;background:#03711a;border-radius:5px"></div>
<div class="a" style="left:1445.00px;top:884.54px;width:18.90px;height:18.80px;background:#03711a;border-radius:5px"></div>
<div class="a" style="left:1469.00px;top:884.54px;width:18.90px;height:18.80px;background:#03711a;border-radius:5px"></div>
<div class="a" style="left:1493.00px;top:884.54px;width:18.90px;height:18.80px;background:#03711a;border-radius:5px"></div>
<div class="a" style="left:1517.00px;top:884.54px;width:18.90px;height:18.80px;background:#03711a;border-radius:5px"></div>
<div class="a" style="left:123.00px;top:933.00px;width:1175.80px;height:1.00px;background:#dadfe8"></div>
<div class="t" style="left:134.12px;top:915.00px;font-size:17.8px;color:#2a3242;letter-spacing:1.192px;-webkit-text-stroke:0.25px #2a3242;">chain<span class="u" style="width:10.40px;margin:0 -0.86px 0 -2.05px;border-bottom-width:1.42px;vertical-align:-1.78px"></span>t16</div>
<div class="a" style="left:1301.00px;top:911.19px;width:18.90px;height:18.80px;background:#c94a22;border-radius:5px"></div>
<div class="a" style="left:1325.00px;top:911.19px;width:18.90px;height:18.80px;background:#c94a22;border-radius:5px"></div>
<div class="a" style="left:1349.00px;top:911.19px;width:18.90px;height:18.80px;background:#03711a;border-radius:5px"></div>
<div class="a" style="left:1373.00px;top:911.19px;width:18.90px;height:18.80px;background:#03711a;border-radius:5px"></div>
<div class="a" style="left:1397.00px;top:911.19px;width:18.90px;height:18.80px;background:#03711a;border-radius:5px"></div>
<div class="a" style="left:1421.00px;top:911.19px;width:18.90px;height:18.80px;background:#03711a;border-radius:5px"></div>
<div class="a" style="left:1445.00px;top:911.19px;width:18.90px;height:18.80px;background:#03711a;border-radius:5px"></div>
<div class="a" style="left:1469.00px;top:911.19px;width:18.90px;height:18.80px;background:#03711a;border-radius:5px"></div>
<div class="a" style="left:1493.00px;top:911.19px;width:18.90px;height:18.80px;background:#03711a;border-radius:5px"></div>
<div class="a" style="left:1517.00px;top:911.19px;width:18.90px;height:18.80px;background:#03711a;border-radius:5px"></div>
<div class="a" style="left:123.00px;top:960.00px;width:1175.80px;height:1.00px;background:#dadfe8"></div>
<div class="t" style="left:134.12px;top:942.00px;font-size:17.8px;color:#2a3242;letter-spacing:1.192px;-webkit-text-stroke:0.25px #2a3242;">chain<span class="u" style="width:10.40px;margin:0 -0.86px 0 -2.05px;border-bottom-width:1.42px;vertical-align:-1.78px"></span>t17</div>
<div class="a" style="left:1301.00px;top:937.84px;width:18.90px;height:18.80px;background:#c94a22;border-radius:5px"></div>
<div class="a" style="left:1325.00px;top:937.84px;width:18.90px;height:18.80px;background:#c94a22;border-radius:5px"></div>
<div class="a" style="left:1349.00px;top:937.84px;width:18.90px;height:18.80px;background:#03711a;border-radius:5px"></div>
<div class="a" style="left:1373.00px;top:937.84px;width:18.90px;height:18.80px;background:#03711a;border-radius:5px"></div>
<div class="a" style="left:1397.00px;top:937.84px;width:18.90px;height:18.80px;background:#03711a;border-radius:5px"></div>
<div class="a" style="left:1421.00px;top:937.84px;width:18.90px;height:18.80px;background:#03711a;border-radius:5px"></div>
<div class="a" style="left:1445.00px;top:937.84px;width:18.90px;height:18.80px;background:#03711a;border-radius:5px"></div>
<div class="a" style="left:1469.00px;top:937.84px;width:18.90px;height:18.80px;background:#03711a;border-radius:5px"></div>
<div class="a" style="left:1493.00px;top:937.84px;width:18.90px;height:18.80px;background:#03711a;border-radius:5px"></div>
<div class="a" style="left:1517.00px;top:937.84px;width:18.90px;height:18.80px;background:#03711a;border-radius:5px"></div>
<div class="a" style="left:123.00px;top:986.00px;width:1175.80px;height:1.00px;background:#dadfe8"></div>
<div class="t" style="left:134.12px;top:968.00px;font-size:17.8px;color:#2a3242;letter-spacing:1.194px;-webkit-text-stroke:0.25px #2a3242;">empty<span class="u" style="width:10.40px;margin:0 -0.85px 0 -2.05px;border-bottom-width:1.42px;vertical-align:-1.78px"></span>2</div>
<div class="a" style="left:1301.00px;top:964.48px;width:18.90px;height:18.80px;background:#c94a22;border-radius:5px"></div>
<div class="a" style="left:1325.00px;top:964.48px;width:18.90px;height:18.80px;background:#c94a22;border-radius:5px"></div>
<div class="a" style="left:1349.00px;top:964.48px;width:18.90px;height:18.80px;background:#03711a;border-radius:5px"></div>
<div class="a" style="left:1373.00px;top:964.48px;width:18.90px;height:18.80px;background:#03711a;border-radius:5px"></div>
<div class="a" style="left:1397.00px;top:964.48px;width:18.90px;height:18.80px;background:#03711a;border-radius:5px"></div>
<div class="a" style="left:1421.00px;top:964.48px;width:18.90px;height:18.80px;background:#03711a;border-radius:5px"></div>
<div class="a" style="left:1445.00px;top:964.48px;width:18.90px;height:18.80px;background:#03711a;border-radius:5px"></div>
<div class="a" style="left:1469.00px;top:964.48px;width:18.90px;height:18.80px;background:#03711a;border-radius:5px"></div>
<div class="a" style="left:1493.00px;top:964.48px;width:18.90px;height:18.80px;background:#03711a;border-radius:5px"></div>
<div class="a" style="left:1517.00px;top:964.48px;width:18.90px;height:18.80px;background:#03711a;border-radius:5px"></div>
<div class="a" style="left:123.00px;top:1013.00px;width:1175.80px;height:1.00px;background:#dadfe8"></div>
<div class="t" style="left:134.12px;top:995.00px;font-size:17.8px;color:#2a3242;letter-spacing:1.192px;-webkit-text-stroke:0.25px #2a3242;">chain<span class="u" style="width:10.40px;margin:0 -0.86px 0 -2.05px;border-bottom-width:1.42px;vertical-align:-1.78px"></span>t18</div>
<div class="a" style="left:1301.00px;top:991.12px;width:18.90px;height:18.80px;background:#c94a22;border-radius:5px"></div>
<div class="a" style="left:1325.00px;top:991.12px;width:18.90px;height:18.80px;background:#c94a22;border-radius:5px"></div>
<div class="a" style="left:1349.00px;top:991.12px;width:18.90px;height:18.80px;background:#03711a;border-radius:5px"></div>
<div class="a" style="left:1373.00px;top:991.12px;width:18.90px;height:18.80px;background:#03711a;border-radius:5px"></div>
<div class="a" style="left:1397.00px;top:991.12px;width:18.90px;height:18.80px;background:#03711a;border-radius:5px"></div>
<div class="a" style="left:1421.00px;top:991.12px;width:18.90px;height:18.80px;background:#03711a;border-radius:5px"></div>
<div class="a" style="left:1445.00px;top:991.12px;width:18.90px;height:18.80px;background:#03711a;border-radius:5px"></div>
<div class="a" style="left:1469.00px;top:991.12px;width:18.90px;height:18.80px;background:#03711a;border-radius:5px"></div>
<div class="a" style="left:1493.00px;top:991.12px;width:18.90px;height:18.80px;background:#03711a;border-radius:5px"></div>
<div class="a" style="left:1517.00px;top:991.12px;width:18.90px;height:18.80px;background:#03711a;border-radius:5px"></div>
<div class="a" style="left:123.00px;top:1040.00px;width:1175.80px;height:1.00px;background:#dadfe8"></div>
<div class="t" style="left:134.12px;top:1021.00px;font-size:17.8px;color:#2a3242;letter-spacing:1.192px;-webkit-text-stroke:0.25px #2a3242;">chain<span class="u" style="width:10.40px;margin:0 -0.86px 0 -2.05px;border-bottom-width:1.42px;vertical-align:-1.78px"></span>t19</div>
<div class="a" style="left:1301.00px;top:1017.77px;width:18.90px;height:18.80px;background:#c94a22;border-radius:5px"></div>
<div class="a" style="left:1325.00px;top:1017.77px;width:18.90px;height:18.80px;background:#c94a22;border-radius:5px"></div>
<div class="a" style="left:1349.00px;top:1017.77px;width:18.90px;height:18.80px;background:#03711a;border-radius:5px"></div>
<div class="a" style="left:1373.00px;top:1017.77px;width:18.90px;height:18.80px;background:#03711a;border-radius:5px"></div>
<div class="a" style="left:1397.00px;top:1017.77px;width:18.90px;height:18.80px;background:#03711a;border-radius:5px"></div>
<div class="a" style="left:1421.00px;top:1017.77px;width:18.90px;height:18.80px;background:#03711a;border-radius:5px"></div>
<div class="a" style="left:1445.00px;top:1017.77px;width:18.90px;height:18.80px;background:#03711a;border-radius:5px"></div>
<div class="a" style="left:1469.00px;top:1017.77px;width:18.90px;height:18.80px;background:#03711a;border-radius:5px"></div>
<div class="a" style="left:1493.00px;top:1017.77px;width:18.90px;height:18.80px;background:#03711a;border-radius:5px"></div>
<div class="a" style="left:1517.00px;top:1017.77px;width:18.90px;height:18.80px;background:#03711a;border-radius:5px"></div>
<div class="a" style="left:123.00px;top:1066.00px;width:1175.80px;height:1.00px;background:#dadfe8"></div>
<div class="t" style="left:134.12px;top:1048.00px;font-size:17.8px;color:#2a3242;letter-spacing:1.191px;-webkit-text-stroke:0.25px #2a3242;">end<span class="u" style="width:10.40px;margin:0 -0.86px 0 -2.05px;border-bottom-width:1.42px;vertical-align:-1.78px"></span>chain</div>
<div class="a" style="left:1301.00px;top:1044.41px;width:18.90px;height:18.80px;background:#c94a22;border-radius:5px"></div>
<div class="a" style="left:1325.00px;top:1044.41px;width:18.90px;height:18.80px;background:#c94a22;border-radius:5px"></div>
<div class="a" style="left:1349.00px;top:1044.41px;width:18.90px;height:18.80px;background:#03711a;border-radius:5px"></div>
<div class="a" style="left:1373.00px;top:1044.41px;width:18.90px;height:18.80px;background:#03711a;border-radius:5px"></div>
<div class="a" style="left:1397.00px;top:1044.41px;width:18.90px;height:18.80px;background:#03711a;border-radius:5px"></div>
<div class="a" style="left:1421.00px;top:1044.41px;width:18.90px;height:18.80px;background:#03711a;border-radius:5px"></div>
<div class="a" style="left:1445.00px;top:1044.41px;width:18.90px;height:18.80px;background:#03711a;border-radius:5px"></div>
<div class="a" style="left:1469.00px;top:1044.41px;width:18.90px;height:18.80px;background:#03711a;border-radius:5px"></div>
<div class="a" style="left:1493.00px;top:1044.41px;width:18.90px;height:18.80px;background:#03711a;border-radius:5px"></div>
<div class="a" style="left:1517.00px;top:1044.41px;width:18.90px;height:18.80px;background:#03711a;border-radius:5px"></div>
<div class="a" style="left:1571.25px;top:80.75px;width:2.00px;height:1215.25px;background:#c8cfdb"></div>
<div class="a" style="left:2271.00px;top:17.00px;width:267.00px;height:53.00px;background:#edf2fa;border-radius:7px"></div>
<div class="t" style="left:2331.50px;top:35.00px;font-size:18.94px;color:#1e2b4f;">Search Dags</div>
<div class="a" style="left:2453.50px;top:31.25px;width:40.00px;height:22.50px;border:1.33px solid #dbe3f1;border-radius:5px;background:#eef3fb"></div>
<div class="t" style="left:1973.50px;width:1000px;text-align:center;top:36.00px;font-size:14px;color:#2c3a5c;">&#8984;+K</div>
<div class="a" style="left:2543.50px;top:17.50px;width:144.00px;height:52.00px;border:1.33px solid #d5dce6;border-radius:7px"></div>
<div class="t" style="left:2603.50px;top:34.00px;font-size:19.8px;color:#141b2b;">Trigger</div>
<div class="a" style="left:1573.75px;top:80.75px;width:1114.00px;height:252.50px;border:1.33px solid #cdd5e0;border-radius:10px"></div>
<div class="t" style="left:1623.83px;top:109.00px;font-size:23.6px;color:#141b2b;letter-spacing:1.448px;-webkit-text-stroke:1.06px #141b2b;">toy<span class="u" style="width:13.78px;margin:0 -1.27px 0 -2.71px;border-bottom-width:1.89px;vertical-align:-2.36px"></span>chain<span class="u" style="width:13.78px;margin:0 -1.27px 0 -2.71px;border-bottom-width:1.89px;vertical-align:-2.36px"></span>linear<span class="u" style="width:13.78px;margin:0 -1.27px 0 -2.71px;border-bottom-width:1.89px;vertical-align:-2.36px"></span>vs<span class="u" style="width:13.78px;margin:0 -1.27px 0 -2.71px;border-bottom-width:1.89px;vertical-align:-2.36px"></span>chain<span class="u" style="width:13.78px;margin:0 -1.27px 0 -2.71px;border-bottom-width:1.89px;vertical-align:-2.36px"></span>complex</div>
<div class="a" style="left:2037.00px;top:110.75px;width:42.75px;height:21.00px;background:#425a87;border-radius:11px"></div>
<div class="a" style="left:2061.00px;top:112.60px;width:17.00px;height:17.00px;background:#fff;border-radius:50%"></div>
<div class="a" style="left:2407.25px;top:93.25px;width:192.25px;height:52.25px;border:1.33px solid #d5dce6;border-radius:7px"></div>
<div class="t" style="left:2468.00px;top:110.00px;font-size:19px;color:#141b2b;">Favorite Dag</div>
<div class="a" style="left:2605.50px;top:93.25px;width:70.00px;height:52.25px;border:1.33px solid #d5dce6;border-radius:7px"></div>
<div class="t" style="left:1585.50px;top:162.00px;font-size:16.2px;color:#4a5c78;letter-spacing:0.638px;-webkit-text-stroke:0.73px #4a5c78;">Schedule</div>
<div class="t" style="left:1716.75px;top:162.00px;font-size:16.2px;color:#4a5c78;letter-spacing:0.595px;-webkit-text-stroke:0.73px #4a5c78;">Latest Run</div>
<div class="t" style="left:2020.25px;top:162.00px;font-size:16.2px;color:#4a5c78;letter-spacing:0.511px;-webkit-text-stroke:0.73px #4a5c78;">Next Run</div>
<div class="t" style="left:2149.50px;top:162.00px;font-size:16.2px;color:#4a5c78;letter-spacing:0.674px;-webkit-text-stroke:0.73px #4a5c78;">Owner</div>
<div class="t" style="left:2265.75px;top:162.00px;font-size:16.2px;color:#4a5c78;letter-spacing:0.796px;-webkit-text-stroke:0.73px #4a5c78;">Tags</div>
<div class="t" style="left:1716.88px;top:195.00px;font-size:21.05px;color:#3162e8;letter-spacing:0.502px;-webkit-text-stroke:0.25px #3162e8;">2025-09-23 17:19:01</div>
<div class="t" style="left:2149.50px;top:194.00px;font-size:19.7px;color:#3162e8;">airflow</div>
<div class="t" style="left:2292.25px;top:194.00px;font-size:19.47px;color:#141b2b;">toy, chain(), dependency_functions, +2 more</div>
<div class="t" style="left:1585.50px;top:254.00px;font-size:16.3px;color:#4a5c78;letter-spacing:0.530px;-webkit-text-stroke:0.73px #4a5c78;">Latest Dag Version</div>
<div class="t" style="left:1585.50px;top:287.00px;font-size:21.5px;color:#141b2b;">v5</div>
<div class="a" style="left:1573.00px;top:392.60px;width:1114.75px;height:1.40px;background:#cdd5e0"></div>
<div class="a" style="left:1573.00px;top:391.00px;width:140.00px;height:4.00px;background:#3b7cf4"></div>
<div class="t" style="left:1595.00px;top:358.00px;font-size:21.53px;color:#141b2b;letter-spacing:0.860px;-webkit-text-stroke:0.97px #141b2b;">Overview</div>
<div class="t" style="left:1735.00px;top:358.00px;font-size:20.3px;color:#44597a;letter-spacing:1.120px;-webkit-text-stroke:0.91px #44597a;">Runs</div>
<div class="t" style="left:1829.50px;top:357.00px;font-size:21.0px;color:#44597a;letter-spacing:1.077px;-webkit-text-stroke:0.94px #44597a;">Tasks</div>
<div class="t" style="left:1931.25px;top:357.00px;font-size:21.62px;color:#44597a;letter-spacing:0.683px;-webkit-text-stroke:0.97px #44597a;">Calendar</div>
<div class="t" style="left:2067.50px;top:358.00px;font-size:20.79px;color:#44597a;letter-spacing:1.142px;-webkit-text-stroke:0.94px #44597a;">Audit Log</div>
<div class="t" style="left:2208.00px;top:357.00px;font-size:21.2px;color:#44597a;letter-spacing:0.773px;-webkit-text-stroke:0.95px #44597a;">Code</div>
<div class="t" style="left:2304.75px;top:357.00px;font-size:21.57px;color:#44597a;letter-spacing:0.800px;-webkit-text-stroke:0.97px #44597a;">Details</div>
<div class="a" style="left:2657.75px;top:404.00px;width:30.00px;height:892.00px;background:#fafafa;border-left:2px solid #ebebeb;border-right:2px solid #efefef"></div>
<div class="a" style="left:2666.00px;top:410.00px;width:15.75px;height:505.00px;background:#c2c2c2;border-radius:8px"></div>
<div class="a" style="left:1637.50px;top:426.25px;width:266.25px;height:52.00px;border:1.33px solid #dde3ec;border-radius:7px"></div>
<div class="t" style="left:1655.00px;top:444.00px;font-size:19.19px;color:#1f2633;">Last 24 Hours</div>
<div class="t" style="left:1916.12px;top:442.00px;font-size:21.75px;color:#141b2b;letter-spacing:0.319px;-webkit-text-stroke:0.25px #141b2b;">2025-09-22 17:19:43 - 2025-09-23 17:19:43</div>
<div class="a" style="left:1605.25px;top:500.25px;width:466.25px;height:67.25px;border:1.33px solid #cfd6e1;border-radius:7px"></div>
<div class="a" style="left:1622.00px;top:521.25px;width:26.50px;height:25.75px;background:#d42422;border-radius:7px"></div>
<div class="t" style="left:1135.25px;width:1000px;text-align:center;top:527.00px;font-size:17px;color:#fff;">2</div>
<div class="t" style="left:1660.00px;top:526.00px;font-size:18.68px;color:#141b2b;letter-spacing:0.661px;-webkit-text-stroke:0.84px #141b2b;">Failed Tasks</div>
<div class="a" style="left:2083.50px;top:500.25px;width:465.00px;height:67.25px;border:1.33px solid #cfd6e1;border-radius:7px"></div>
<div class="a" style="left:2100.25px;top:521.25px;width:26.50px;height:25.75px;background:#d42422;border-radius:7px"></div>
<div class="t" style="left:1613.50px;width:1000px;text-align:center;top:527.00px;font-size:17px;color:#fff;">2</div>
<div class="t" style="left:2138.25px;top:526.00px;font-size:18.35px;color:#141b2b;letter-spacing:0.608px;-webkit-text-stroke:0.83px #141b2b;">Failed Runs</div>
<div class="a" style="left:1605.25px;top:589.25px;width:466.25px;height:281.25px;border:1.33px solid #e0e6ee;border-radius:8px"></div>
<div class="t" style="left:1338.75px;width:1000px;text-align:center;top:606.00px;font-size:18.29px;color:#141b2b;letter-spacing:0.471px;-webkit-text-stroke:0.82px #141b2b;">Last 10 Dag Runs</div>
<div class="a" style="left:1662.00px;top:651.25px;width:53.75px;height:16.25px;background:#58544f"></div>
<div class="t" style="left:1723.75px;top:651.00px;font-size:15.92px;color:#666;">Queued Duration</div>
<div class="a" style="left:1859.25px;top:651.25px;width:53.25px;height:16.25px;background:#d42e24"></div>
<div class="t" style="left:1920.50px;top:651.00px;font-size:15.74px;color:#666;">Run Duration</div>
<div class="a" style="left:1743.75px;top:679.90px;width:315.75px;height:1.20px;background:#e3e3e3"></div>
<div class="t" style="right:960.30px;top:674.00px;font-size:14.6px;color:#6e6e6e;">10</div>
<div class="a" style="left:1743.75px;top:717.90px;width:315.75px;height:1.20px;background:#e3e3e3"></div>
<div class="t" style="right:960.30px;top:712.00px;font-size:14.6px;color:#6e6e6e;">5</div>
<div class="a" style="left:1743.75px;top:755.80px;width:315.75px;height:1.20px;background:#e3e3e3"></div>
<div class="t" style="right:960.30px;top:750.00px;font-size:14.6px;color:#6e6e6e;">0</div>
<div class="a" style="left:1754.30px;top:680.50px;width:1.20px;height:75.90px;background:#e3e3e3"></div>
<div class="a" style="left:1952.00px;top:680.50px;width:1.20px;height:87.00px;background:#e3e3e3"></div>
<div class="t" style="left:1703.4px;top:710.9px;font-size:15.7px;color:#6e6e6e;transform:translate(-50%,-50%) rotate(-90deg);">Duration</div>
<div class="a" style="left:1759.25px;top:715.00px;width:21.75px;height:41.40px;background:#d42e24"></div>
<div class="a" style="left:1759.25px;top:755.90px;width:21.75px;height:0.50px;background:#58544f"></div>
<div class="a" style="left:1789.50px;top:712.00px;width:22.00px;height:44.40px;background:#d42e24"></div>
<div class="a" style="left:1789.50px;top:753.90px;width:22.00px;height:2.50px;background:#58544f"></div>
<div class="a" style="left:1820.25px;top:690.00px;width:21.75px;height:66.40px;background:#34761f"></div>
<div class="a" style="left:1820.25px;top:755.90px;width:21.75px;height:0.50px;background:#58544f"></div>
<div class="a" style="left:1850.50px;top:691.75px;width:22.00px;height:64.65px;background:#34761f"></div>
<div class="a" style="left:1850.50px;top:750.40px;width:22.00px;height:6.00px;background:#58544f"></div>
<div class="a" style="left:1881.00px;top:692.00px;width:22.00px;height:64.40px;background:#34761f"></div>
<div class="a" style="left:1881.00px;top:755.40px;width:22.00px;height:1.00px;background:#58544f"></div>
<div class="a" style="left:1911.50px;top:698.75px;width:22.00px;height:57.65px;background:#34761f"></div>
<div class="a" style="left:1911.50px;top:755.40px;width:22.00px;height:1.00px;background:#58544f"></div>
<div class="a" style="left:1942.00px;top:697.50px;width:21.75px;height:58.90px;background:#34761f"></div>
<div class="a" style="left:1942.00px;top:753.90px;width:21.75px;height:2.50px;background:#58544f"></div>
<div class="a" style="left:1972.50px;top:690.00px;width:22.00px;height:66.40px;background:#34761f"></div>
<div class="a" style="left:1972.50px;top:755.40px;width:22.00px;height:1.00px;background:#58544f"></div>
<div class="a" style="left:2003.00px;top:691.75px;width:21.50px;height:64.65px;background:#34761f"></div>
<div class="a" style="left:2003.00px;top:755.40px;width:21.50px;height:1.00px;background:#58544f"></div>
<div class="a" style="left:2033.25px;top:690.75px;width:21.75px;height:65.65px;background:#34761f"></div>
<div class="a" style="left:2033.25px;top:755.40px;width:21.75px;height:1.00px;background:#58544f"></div>
<div class="a" style="left:1755.00px;top:696.20px;width:304.50px;height:1.40px;background:#8a8a8a"></div>
<div class="a" style="left:1755.00px;top:753.90px;width:304.50px;height:1.40px;background:#8a8a8a"></div>
<div class="a" style="left:2005.00px;top:688.75px;width:46.25px;height:32.75px;background:rgba(4,12,4,0.9);border-radius:10px"></div>
<div class="a" style="left:2005.00px;top:715.00px;width:46.25px;height:33.75px;background:rgba(4,12,4,0.9);border-radius:10px"></div>
<div class="t" style="left:1528.40px;width:1000px;text-align:center;top:698.00px;font-size:15.9px;color:#fff;letter-spacing:0.000px;-webkit-text-stroke:0.72px #fff;">7.84</div>
<div class="t" style="left:1528.20px;width:1000px;text-align:center;top:724.00px;font-size:15.9px;color:#fff;letter-spacing:0.000px;-webkit-text-stroke:0.72px #fff;">0.32</div>
<div class="t" style="left:1600.00px;top:773.5px;width:170px;text-align:right;font-size:16.2px;color:#6e6e6e;transform-origin:100% 0;transform:rotate(-13.6deg)">2025-09-23 17:16:58</div>
<div class="t" style="left:1722.00px;top:773.5px;width:170px;text-align:right;font-size:16.2px;color:#6e6e6e;transform-origin:100% 0;transform:rotate(-13.6deg)">2025-09-23 17:18:00</div>
<div class="t" style="left:1843.75px;top:773.5px;width:170px;text-align:right;font-size:16.2px;color:#6e6e6e;transform-origin:100% 0;transform:rotate(-13.6deg)">2025-09-23 17:18:46</div>
<div class="t" style="right:640.50px;top:836.00px;font-size:15.95px;color:#6e6e6e;">Run After</div>
<div class="a" style="left:1573.25px;top:689.25px;width:25.75px;height:31.50px;background:#a3afc2;border-radius:0 16px 16px 0;box-shadow:3px 4px 8px rgba(0,0,0,0.16)"></div>
<div class="a" style="left:2083.50px;top:589.25px;width:517.50px;height:706.75px;border:1.33px solid #dfe5ee;border-bottom:none;border-radius:10px 10px 0 0"></div>
<div class="a" style="left:2105.00px;top:609.25px;width:73.50px;height:31.50px;background:#425a87;border-radius:16px"></div>
<div class="t" style="left:2144.00px;top:616.00px;font-size:20.5px;color:#fff;">14</div>
<div class="t" style="left:2191.00px;top:615.00px;font-size:20.99px;color:#141b2b;letter-spacing:0.695px;-webkit-text-stroke:0.94px #141b2b;">Created Asset Events</div>
<div class="a" style="left:2407.25px;top:601.25px;width:172.50px;height:47.00px;border:1.33px solid #dde3ec;border-radius:7px"></div>
<div class="t" style="left:2421.50px;top:616.00px;font-size:19.17px;color:#141b2b;">Newest First</div>
<div class="a" style="left:2105.00px;top:661.80px;width:474.75px;height:1.30px;background:#e2e7ef"></div>
<div class="t" style="left:2105.88px;top:677.00px;font-size:16.93px;color:#141b2b;letter-spacing:1.501px;-webkit-text-stroke:0.76px #141b2b;">2025-09-23 17:15:36</div>
<div class="t" style="left:2133.00px;top:701.00px;font-size:18.13px;color:#3162e8;">asset://beta</div>
<div class="t" style="left:2105.00px;top:728.00px;font-size:17.7px;color:#141b2b;">Source:</div>
<div class="t" style="left:2177.93px;top:728.00px;font-size:17.8px;color:#3162e8;letter-spacing:0.599px;-webkit-text-stroke:0.25px #3162e8;">toy<span class="u" style="width:10.40px;margin:0 -1.45px 0 -2.05px;border-bottom-width:1.42px;vertical-align:-1.78px"></span>chain<span class="u" style="width:10.40px;margin:0 -1.45px 0 -2.05px;border-bottom-width:1.42px;vertical-align:-1.78px"></span>linear<span class="u" style="width:10.40px;margin:0 -1.45px 0 -2.05px;border-bottom-width:1.42px;vertical-align:-1.78px"></span>vs<span class="u" style="width:10.40px;margin:0 -1.45px 0 -2.05px;border-bottom-width:1.42px;vertical-align:-1.78px"></span>chain<span class="u" style="width:10.40px;margin:0 -1.45px 0 -2.05px;border-bottom-width:1.42px;vertical-align:-1.78px"></span>complex</div>
<div class="a" style="left:2105.00px;top:759.61px;width:474.75px;height:1.34px;background:#e2e7ef"></div>
<div class="t" style="left:2105.88px;top:777.00px;font-size:16.93px;color:#141b2b;letter-spacing:1.501px;-webkit-text-stroke:0.76px #141b2b;">2025-09-23 17:15:35</div>
<div class="t" style="left:2133.00px;top:802.00px;font-size:18.13px;color:#3162e8;">asset://alpha</div>
<div class="t" style="left:2105.00px;top:829.00px;font-size:17.7px;color:#141b2b;">Source:</div>
<div class="t" style="left:2177.93px;top:829.00px;font-size:17.8px;color:#3162e8;letter-spacing:0.599px;-webkit-text-stroke:0.25px #3162e8;">toy<span class="u" style="width:10.40px;margin:0 -1.45px 0 -2.05px;border-bottom-width:1.42px;vertical-align:-1.78px"></span>chain<span class="u" style="width:10.40px;margin:0 -1.45px 0 -2.05px;border-bottom-width:1.42px;vertical-align:-1.78px"></span>linear<span class="u" style="width:10.40px;margin:0 -1.45px 0 -2.05px;border-bottom-width:1.42px;vertical-align:-1.78px"></span>vs<span class="u" style="width:10.40px;margin:0 -1.45px 0 -2.05px;border-bottom-width:1.42px;vertical-align:-1.78px"></span>chain<span class="u" style="width:10.40px;margin:0 -1.45px 0 -2.05px;border-bottom-width:1.42px;vertical-align:-1.78px"></span>complex</div>
<div class="a" style="left:2105.00px;top:859.89px;width:474.75px;height:1.34px;background:#e2e7ef"></div>
<div class="t" style="left:2105.88px;top:878.00px;font-size:16.93px;color:#141b2b;letter-spacing:1.501px;-webkit-text-stroke:0.76px #141b2b;">2025-09-23 17:15:18</div>
<div class="t" style="left:2133.00px;top:902.00px;font-size:18.13px;color:#3162e8;">asset://beta</div>
<div class="t" style="left:2105.00px;top:929.00px;font-size:17.7px;color:#141b2b;">Source:</div>
<div class="t" style="left:2177.93px;top:929.00px;font-size:17.8px;color:#3162e8;letter-spacing:0.599px;-webkit-text-stroke:0.25px #3162e8;">toy<span class="u" style="width:10.40px;margin:0 -1.45px 0 -2.05px;border-bottom-width:1.42px;vertical-align:-1.78px"></span>chain<span class="u" style="width:10.40px;margin:0 -1.45px 0 -2.05px;border-bottom-width:1.42px;vertical-align:-1.78px"></span>linear<span class="u" style="width:10.40px;margin:0 -1.45px 0 -2.05px;border-bottom-width:1.42px;vertical-align:-1.78px"></span>vs<span class="u" style="width:10.40px;margin:0 -1.45px 0 -2.05px;border-bottom-width:1.42px;vertical-align:-1.78px"></span>chain<span class="u" style="width:10.40px;margin:0 -1.45px 0 -2.05px;border-bottom-width:1.42px;vertical-align:-1.78px"></span>complex</div>
<div class="a" style="left:2105.00px;top:960.17px;width:474.75px;height:1.34px;background:#e2e7ef"></div>
<div class="t" style="left:2105.88px;top:978.00px;font-size:16.93px;color:#141b2b;letter-spacing:1.322px;-webkit-text-stroke:0.76px #141b2b;">2025-09-23 17:15:11</div>
<div class="t" style="left:2133.00px;top:1002.00px;font-size:18.13px;color:#3162e8;">asset://beta</div>
<div class="t" style="left:2105.00px;top:1029.00px;font-size:17.7px;color:#141b2b;">Source:</div>
<div class="t" style="left:2177.93px;top:1029.00px;font-size:17.8px;color:#3162e8;letter-spacing:0.599px;-webkit-text-stroke:0.25px #3162e8;">toy<span class="u" style="width:10.40px;margin:0 -1.45px 0 -2.05px;border-bottom-width:1.42px;vertical-align:-1.78px"></span>chain<span class="u" style="width:10.40px;margin:0 -1.45px 0 -2.05px;border-bottom-width:1.42px;vertical-align:-1.78px"></span>linear<span class="u" style="width:10.40px;margin:0 -1.45px 0 -2.05px;border-bottom-width:1.42px;vertical-align:-1.78px"></span>vs<span class="u" style="width:10.40px;margin:0 -1.45px 0 -2.05px;border-bottom-width:1.42px;vertical-align:-1.78px"></span>chain<span class="u" style="width:10.40px;margin:0 -1.45px 0 -2.05px;border-bottom-width:1.42px;vertical-align:-1.78px"></span>complex</div>
<div class="a" style="left:2105.00px;top:1060.45px;width:474.75px;height:1.34px;background:#e2e7ef"></div>
<div class="t" style="left:2105.88px;top:1078.00px;font-size:16.93px;color:#141b2b;letter-spacing:1.501px;-webkit-text-stroke:0.76px #141b2b;">2025-09-23 17:14:44</div>
<div class="t" style="left:2133.00px;top:1102.00px;font-size:18.13px;color:#3162e8;">asset://beta</div>
<div class="t" style="left:2105.00px;top:1130.00px;font-size:17.7px;color:#141b2b;">Source:</div>
<div class="t" style="left:2177.93px;top:1129.00px;font-size:17.8px;color:#3162e8;letter-spacing:0.599px;-webkit-text-stroke:0.25px #3162e8;">toy<span class="u" style="width:10.40px;margin:0 -1.45px 0 -2.05px;border-bottom-width:1.42px;vertical-align:-1.78px"></span>chain<span class="u" style="width:10.40px;margin:0 -1.45px 0 -2.05px;border-bottom-width:1.42px;vertical-align:-1.78px"></span>linear<span class="u" style="width:10.40px;margin:0 -1.45px 0 -2.05px;border-bottom-width:1.42px;vertical-align:-1.78px"></span>vs<span class="u" style="width:10.40px;margin:0 -1.45px 0 -2.05px;border-bottom-width:1.42px;vertical-align:-1.78px"></span>chain<span class="u" style="width:10.40px;margin:0 -1.45px 0 -2.05px;border-bottom-width:1.42px;vertical-align:-1.78px"></span>complex</div>
<div class="a" style="left:2105.00px;top:1160.73px;width:474.75px;height:1.34px;background:#e2e7ef"></div>
<div class="t" style="left:2105.88px;top:1179.00px;font-size:16.93px;color:#141b2b;letter-spacing:1.501px;-webkit-text-stroke:0.76px #141b2b;">2025-09-23 17:14:24</div>
<div class="t" style="left:2133.00px;top:1203.00px;font-size:18.13px;color:#3162e8;">asset://alpha</div>
<div class="t" style="left:2105.00px;top:1230.00px;font-size:17.7px;color:#141b2b;">Source:</div>
<div class="t" style="left:2177.93px;top:1230.00px;font-size:17.8px;color:#3162e8;letter-spacing:0.599px;-webkit-text-stroke:0.25px #3162e8;">toy<span class="u" style="width:10.40px;margin:0 -1.45px 0 -2.05px;border-bottom-width:1.42px;vertical-align:-1.78px"></span>chain<span class="u" style="width:10.40px;margin:0 -1.45px 0 -2.05px;border-bottom-width:1.42px;vertical-align:-1.78px"></span>linear<span class="u" style="width:10.40px;margin:0 -1.45px 0 -2.05px;border-bottom-width:1.42px;vertical-align:-1.78px"></span>vs<span class="u" style="width:10.40px;margin:0 -1.45px 0 -2.05px;border-bottom-width:1.42px;vertical-align:-1.78px"></span>chain<span class="u" style="width:10.40px;margin:0 -1.45px 0 -2.05px;border-bottom-width:1.42px;vertical-align:-1.78px"></span>complex</div>
<div class="a" style="left:2105.00px;top:1261.01px;width:474.75px;height:1.34px;background:#e2e7ef"></div>
<div class="t" style="left:2105.88px;top:1279.00px;font-size:16.93px;color:#141b2b;letter-spacing:1.501px;-webkit-text-stroke:0.76px #141b2b;">2025-09-23 16:57:38</div>
<svg class="a" style="left:0;top:0" width="2700" height="1308" viewBox="0 0 2700 1308" stroke-linecap="round" stroke-linejoin="round"><g transform="translate(30,16) scale(0.469)"><g transform="rotate(0 50 50)"><path d="M0 0 L30 30 Q40 32 50 50 L72 31.6 Q66 24 57.6 19.2 Q38 0 0 0 Z" fill="#d24a2f"/><path d="M57.6 19.2 Q66 24 72 31.6 L50 50 Q57 35 57.6 19.2 Z" fill="#ee7c5e"/></g><g transform="rotate(90 50 50)"><path d="M0 0 L30 30 Q40 32 50 50 L72 31.6 Q66 24 57.6 19.2 Q38 0 0 0 Z" fill="#5bc4d1"/><path d="M57.6 19.2 Q66 24 72 31.6 L50 50 Q57 35 57.6 19.2 Z" fill="#66dfe8"/></g><g transform="rotate(180 50 50)"><path d="M0 0 L30 30 Q40 32 50 50 L72 31.6 Q66 24 57.6 19.2 Q38 0 0 0 Z" fill="#50aa51"/><path d="M57.6 19.2 Q66 24 72 31.6 L50 50 Q57 35 57.6 19.2 Z" fill="#62d066"/></g><g transform="rotate(270 50 50)"><path d="M0 0 L30 30 Q40 32 50 50 L72 31.6 Q66 24 57.6 19.2 Q38 0 0 0 Z" fill="#367be3"/><path d="M57.6 19.2 Q66 24 72 31.6 L50 50 Q57 35 57.6 19.2 Z" fill="#4cb0f4"/></g></g><g transform="translate(40.00,100.00) scale(1.1113)" stroke="#1e2b4f" stroke-width="2" fill="none"><path d="M15 21v-8a1 1 0 0 0-1-1h-4a1 1 0 0 0-1 1v8"/><path d="M3 10a2 2 0 0 1 .709-1.528l7-5.999a2 2 0 0 1 2.582 0l7 5.999A2 2 0 0 1 21 10v9a2 2 0 0 1-2 2H5a2 2 0 0 1-2-2z"/></g><g transform="translate(40.60,210.00) scale(1.0)" stroke="#ffffff" stroke-width="2.4" fill="none"><path d="M0 0H20.7"/><circle cx="25.3" cy="0" r="4.6"/><path d="M5.2 0V16.5Q5.2 19.9 8.6 19.9H15.4"/><circle cx="20" cy="19.9" r="4.6"/></g><g transform="translate(40.00,312.90) scale(1.1113)" stroke="#1e2b4f" stroke-width="2" fill="none"><ellipse cx="12" cy="5" rx="9" ry="3"/><path d="M3 5V19A9 3 0 0 0 21 19V5"/><path d="M3 12A9 3 0 0 0 21 12"/></g><g transform="translate(40.00,419.80) scale(1.1113)" stroke="#1e2b4f" stroke-width="2" fill="none"><circle cx="12" cy="12" r="10"/><path d="M12 2a14.5 14.5 0 0 0 0 20 14.5 14.5 0 0 0 0-20"/><path d="M2 12h20"/></g><path d="M49.94 531.93 L51.44 528.10 L55.26 528.10 L56.76 531.93 L60.52 530.28 L63.22 532.98 L61.57 536.74 L65.40 538.24 L65.40 542.06 L61.57 543.56 L63.22 547.32 L60.52 550.02 L56.76 548.37 L55.26 552.20 L51.44 552.20 L49.94 548.37 L46.18 550.02 L43.48 547.32 L45.13 543.56 L41.30 542.06 L41.30 538.24 L45.13 536.74 L43.48 532.98 L46.18 530.28Z" stroke="#1e2b4f" stroke-width="2.2" fill="none" /><circle cx="53.35" cy="540.15" r="3.5" stroke="#1e2b4f" stroke-width="2.2" fill="none"/><g transform="translate(40.00,1103.90) scale(1.1113)" stroke="#1e2b4f" stroke-width="2" fill="none"><path d="M12 7v14"/><path d="M3 18a1 1 0 0 1-1-1V4a1 1 0 0 1 1-1h5a4 4 0 0 1 4 4 4 4 0 0 1 4-4h5a1 1 0 0 1 1 1v13a1 1 0 0 1-1 1h-6a3 3 0 0 0-3 3 3 3 0 0 0-3-3z"/></g><g transform="translate(40.00,1210.90) scale(1.1113)" stroke="#1e2b4f" stroke-width="2" fill="none"><path d="M19 21v-2a4 4 0 0 0-4-4H9a4 4 0 0 0-4 4v2"/><circle cx="12" cy="7" r="4"/></g><g transform="translate(136.10,100.00) scale(0.8887)" stroke="#ffffff" stroke-width="1.8" fill="none"><rect x="3" y="3" width="7" height="7"/><rect x="14" y="3" width="7" height="7"/><rect x="14" y="14" width="7" height="7"/><rect x="3" y="14" width="7" height="7"/></g><path d="M185.8 103.7h4.1v5.1h-4.1z M197.3 103.7h4.3v5.1h-4.3z M197.3 112.6h4.3v5.2h-4.3z M189.9 106.1H197.3 M193.7 106.1V115.2H197.3" stroke="#1e2b4f" stroke-width="1.6" fill="none" stroke-linejoin="miter"/><path d="M1523.4 107.6L1529.5 113.4L1535.5 107.6" stroke="#1a2030" stroke-width="1.9" fill="none" stroke-linecap="round" stroke-linejoin="round"/><rect x="1541.2" y="143.7" width="17" height="13.8" rx="2.2" stroke="#3d5378" stroke-width="1.5" fill="none"/><rect x="1543.50" y="146.5" width="1.4" height="1.4" fill="#3d5378"/><rect x="1547.20" y="146.5" width="1.4" height="1.4" fill="#3d5378"/><rect x="1550.80" y="146.5" width="1.4" height="1.4" fill="#3d5378"/><rect x="1554.30" y="146.5" width="1.4" height="1.4" fill="#3d5378"/><rect x="1545.30" y="150.0" width="1.4" height="1.4" fill="#3d5378"/><rect x="1549.00" y="150.0" width="1.4" height="1.4" fill="#3d5378"/><rect x="1552.50" y="150.0" width="1.4" height="1.4" fill="#3d5378"/><path d="M1544.8 154.1H1554.8" stroke="#3d5378" stroke-width="1.5" fill="none" /><polygon points="1308.05,306 1314.45,309.4 1308.05,312.8" fill="#fff"/><polygon points="1332.05,306 1338.45,309.4 1332.05,312.8" fill="#fff"/><polygon points="1356.05,306 1362.45,309.4 1356.05,312.8" fill="#fff"/><polygon points="1380.05,306 1386.45,309.4 1380.05,312.8" fill="#fff"/><polygon points="1404.05,306 1410.45,309.4 1404.05,312.8" fill="#fff"/><polygon points="1428.05,306 1434.45,309.4 1428.05,312.8" fill="#fff"/><polygon points="1452.05,306 1458.45,309.4 1452.05,312.8" fill="#fff"/><polygon points="1476.05,306 1482.45,309.4 1476.05,312.8" fill="#fff"/><polygon points="1500.05,306 1506.45,309.4 1500.05,312.8" fill="#fff"/><polygon points="1524.05,306 1530.45,309.4 1524.05,312.8" fill="#fff"/><path d="M1306.30 334.70L1308.90 337.40L1315.40 331.40" stroke="#d2ead7" stroke-width="1.45" fill="none" stroke-linecap="round" stroke-linejoin="round"/><path d="M1330.30 334.70L1332.90 337.40L1339.40 331.40" stroke="#d2ead7" stroke-width="1.45" fill="none" stroke-linecap="round" stroke-linejoin="round"/><path d="M1354.30 334.70L1356.90 337.40L1363.40 331.40" stroke="#d2ead7" stroke-width="1.45" fill="none" stroke-linecap="round" stroke-linejoin="round"/><path d="M1378.30 334.70L1380.90 337.40L1387.40 331.40" stroke="#d2ead7" stroke-width="1.45" fill="none" stroke-linecap="round" stroke-linejoin="round"/><path d="M1402.30 334.70L1404.90 337.40L1411.40 331.40" stroke="#d2ead7" stroke-width="1.45" fill="none" stroke-linecap="round" stroke-linejoin="round"/><path d="M1426.30 334.70L1428.90 337.40L1435.40 331.40" stroke="#d2ead7" stroke-width="1.45" fill="none" stroke-linecap="round" stroke-linejoin="round"/><path d="M1450.30 334.70L1452.90 337.40L1459.40 331.40" stroke="#d2ead7" stroke-width="1.45" fill="none" stroke-linecap="round" stroke-linejoin="round"/><path d="M1474.30 334.70L1476.90 337.40L1483.40 331.40" stroke="#d2ead7" stroke-width="1.45" fill="none" stroke-linecap="round" stroke-linejoin="round"/><path d="M1498.30 334.70L1500.90 337.40L1507.40 331.40" stroke="#d2ead7" stroke-width="1.45" fill="none" stroke-linecap="round" stroke-linejoin="round"/><path d="M1522.30 334.70L1524.90 337.40L1531.40 331.40" stroke="#d2ead7" stroke-width="1.45" fill="none" stroke-linecap="round" stroke-linejoin="round"/><path d="M1306.30 361.34L1308.90 364.04L1315.40 358.04" stroke="#d2ead7" stroke-width="1.45" fill="none" stroke-linecap="round" stroke-linejoin="round"/><path d="M1330.30 361.34L1332.90 364.04L1339.40 358.04" stroke="#d2ead7" stroke-width="1.45" fill="none" stroke-linecap="round" stroke-linejoin="round"/><path d="M1354.30 361.34L1356.90 364.04L1363.40 358.04" stroke="#d2ead7" stroke-width="1.45" fill="none" stroke-linecap="round" stroke-linejoin="round"/><path d="M1378.30 361.34L1380.90 364.04L1387.40 358.04" stroke="#d2ead7" stroke-width="1.45" fill="none" stroke-linecap="round" stroke-linejoin="round"/><path d="M1402.30 361.34L1404.90 364.04L1411.40 358.04" stroke="#d2ead7" stroke-width="1.45" fill="none" stroke-linecap="round" stroke-linejoin="round"/><path d="M1426.30 361.34L1428.90 364.04L1435.40 358.04" stroke="#d2ead7" stroke-width="1.45" fill="none" stroke-linecap="round" stroke-linejoin="round"/><path d="M1450.30 361.34L1452.90 364.04L1459.40 358.04" stroke="#d2ead7" stroke-width="1.45" fill="none" stroke-linecap="round" stroke-linejoin="round"/><path d="M1474.30 361.34L1476.90 364.04L1483.40 358.04" stroke="#d2ead7" stroke-width="1.45" fill="none" stroke-linecap="round" stroke-linejoin="round"/><path d="M1498.30 361.34L1500.90 364.04L1507.40 358.04" stroke="#d2ead7" stroke-width="1.45" fill="none" stroke-linecap="round" stroke-linejoin="round"/><path d="M1522.30 361.34L1524.90 364.04L1531.40 358.04" stroke="#d2ead7" stroke-width="1.45" fill="none" stroke-linecap="round" stroke-linejoin="round"/><path d="M1306.30 387.99L1308.90 390.69L1315.40 384.69" stroke="#d2ead7" stroke-width="1.45" fill="none" stroke-linecap="round" stroke-linejoin="round"/><path d="M1330.30 387.99L1332.90 390.69L1339.40 384.69" stroke="#d2ead7" stroke-width="1.45" fill="none" stroke-linecap="round" stroke-linejoin="round"/><path d="M1354.30 387.99L1356.90 390.69L1363.40 384.69" stroke="#d2ead7" stroke-width="1.45" fill="none" stroke-linecap="round" stroke-linejoin="round"/><path d="M1378.30 387.99L1380.90 390.69L1387.40 384.69" stroke="#d2ead7" stroke-width="1.45" fill="none" stroke-linecap="round" stroke-linejoin="round"/><path d="M1402.30 387.99L1404.90 390.69L1411.40 384.69" stroke="#d2ead7" stroke-width="1.45" fill="none" stroke-linecap="round" stroke-linejoin="round"/><path d="M1426.30 387.99L1428.90 390.69L1435.40 384.69" stroke="#d2ead7" stroke-width="1.45" fill="none" stroke-linecap="round" stroke-linejoin="round"/><path d="M1450.30 387.99L1452.90 390.69L1459.40 384.69" stroke="#d2ead7" stroke-width="1.45" fill="none" stroke-linecap="round" stroke-linejoin="round"/><path d="M1474.30 387.99L1476.90 390.69L1483.40 384.69" stroke="#d2ead7" stroke-width="1.45" fill="none" stroke-linecap="round" stroke-linejoin="round"/><path d="M1498.30 387.99L1500.90 390.69L1507.40 384.69" stroke="#d2ead7" stroke-width="1.45" fill="none" stroke-linecap="round" stroke-linejoin="round"/><path d="M1522.30 387.99L1524.90 390.69L1531.40 384.69" stroke="#d2ead7" stroke-width="1.45" fill="none" stroke-linecap="round" stroke-linejoin="round"/><path d="M1306.30 414.63L1308.90 417.33L1315.40 411.33" stroke="#d2ead7" stroke-width="1.45" fill="none" stroke-linecap="round" stroke-linejoin="round"/><path d="M1330.30 414.63L1332.90 417.33L1339.40 411.33" stroke="#d2ead7" stroke-width="1.45" fill="none" stroke-linecap="round" stroke-linejoin="round"/><path d="M1354.30 414.63L1356.90 417.33L1363.40 411.33" stroke="#d2ead7" stroke-width="1.45" fill="none" stroke-linecap="round" stroke-linejoin="round"/><path d="M1378.30 414.63L1380.90 417.33L1387.40 411.33" stroke="#d2ead7" stroke-width="1.45" fill="none" stroke-linecap="round" stroke-linejoin="round"/><path d="M1402.30 414.63L1404.90 417.33L1411.40 411.33" stroke="#d2ead7" stroke-width="1.45" fill="none" stroke-linecap="round" stroke-linejoin="round"/><path d="M1426.30 414.63L1428.90 417.33L1435.40 411.33" stroke="#d2ead7" stroke-width="1.45" fill="none" stroke-linecap="round" stroke-linejoin="round"/><path d="M1450.30 414.63L1452.90 417.33L1459.40 411.33" stroke="#d2ead7" stroke-width="1.45" fill="none" stroke-linecap="round" stroke-linejoin="round"/><path d="M1474.30 414.63L1476.90 417.33L1483.40 411.33" stroke="#d2ead7" stroke-width="1.45" fill="none" stroke-linecap="round" stroke-linejoin="round"/><path d="M1498.30 414.63L1500.90 417.33L1507.40 411.33" stroke="#d2ead7" stroke-width="1.45" fill="none" stroke-linecap="round" stroke-linejoin="round"/><path d="M1522.30 414.63L1524.90 417.33L1531.40 411.33" stroke="#d2ead7" stroke-width="1.45" fill="none" stroke-linecap="round" stroke-linejoin="round"/><path d="M1306.30 441.28L1308.90 443.98L1315.40 437.98" stroke="#d2ead7" stroke-width="1.45" fill="none" stroke-linecap="round" stroke-linejoin="round"/><path d="M1330.30 441.28L1332.90 443.98L1339.40 437.98" stroke="#d2ead7" stroke-width="1.45" fill="none" stroke-linecap="round" stroke-linejoin="round"/><path d="M1354.30 441.28L1356.90 443.98L1363.40 437.98" stroke="#d2ead7" stroke-width="1.45" fill="none" stroke-linecap="round" stroke-linejoin="round"/><path d="M1378.30 441.28L1380.90 443.98L1387.40 437.98" stroke="#d2ead7" stroke-width="1.45" fill="none" stroke-linecap="round" stroke-linejoin="round"/><path d="M1402.30 441.28L1404.90 443.98L1411.40 437.98" stroke="#d2ead7" stroke-width="1.45" fill="none" stroke-linecap="round" stroke-linejoin="round"/><path d="M1426.30 441.28L1428.90 443.98L1435.40 437.98" stroke="#d2ead7" stroke-width="1.45" fill="none" stroke-linecap="round" stroke-linejoin="round"/><path d="M1450.30 441.28L1452.90 443.98L1459.40 437.98" stroke="#d2ead7" stroke-width="1.45" fill="none" stroke-linecap="round" stroke-linejoin="round"/><path d="M1474.30 441.28L1476.90 443.98L1483.40 437.98" stroke="#d2ead7" stroke-width="1.45" fill="none" stroke-linecap="round" stroke-linejoin="round"/><path d="M1498.30 441.28L1500.90 443.98L1507.40 437.98" stroke="#d2ead7" stroke-width="1.45" fill="none" stroke-linecap="round" stroke-linejoin="round"/><path d="M1522.30 441.28L1524.90 443.98L1531.40 437.98" stroke="#d2ead7" stroke-width="1.45" fill="none" stroke-linecap="round" stroke-linejoin="round"/><path d="M1306.30 467.93L1308.90 470.62L1315.40 464.62" stroke="#d2ead7" stroke-width="1.45" fill="none" stroke-linecap="round" stroke-linejoin="round"/><path d="M1330.30 467.93L1332.90 470.62L1339.40 464.62" stroke="#d2ead7" stroke-width="1.45" fill="none" stroke-linecap="round" stroke-linejoin="round"/><path d="M1354.30 467.93L1356.90 470.62L1363.40 464.62" stroke="#d2ead7" stroke-width="1.45" fill="none" stroke-linecap="round" stroke-linejoin="round"/><path d="M1378.30 467.93L1380.90 470.62L1387.40 464.62" stroke="#d2ead7" stroke-width="1.45" fill="none" stroke-linecap="round" stroke-linejoin="round"/><path d="M1402.30 467.93L1404.90 470.62L1411.40 464.62" stroke="#d2ead7" stroke-width="1.45" fill="none" stroke-linecap="round" stroke-linejoin="round"/><path d="M1426.30 467.93L1428.90 470.62L1435.40 464.62" stroke="#d2ead7" stroke-width="1.45" fill="none" stroke-linecap="round" stroke-linejoin="round"/><path d="M1450.30 467.93L1452.90 470.62L1459.40 464.62" stroke="#d2ead7" stroke-width="1.45" fill="none" stroke-linecap="round" stroke-linejoin="round"/><path d="M1474.30 467.93L1476.90 470.62L1483.40 464.62" stroke="#d2ead7" stroke-width="1.45" fill="none" stroke-linecap="round" stroke-linejoin="round"/><path d="M1498.30 467.93L1500.90 470.62L1507.40 464.62" stroke="#d2ead7" stroke-width="1.45" fill="none" stroke-linecap="round" stroke-linejoin="round"/><path d="M1522.30 467.93L1524.90 470.62L1531.40 464.62" stroke="#d2ead7" stroke-width="1.45" fill="none" stroke-linecap="round" stroke-linejoin="round"/><path d="M1306.30 494.57L1308.90 497.27L1315.40 491.27" stroke="#d2ead7" stroke-width="1.45" fill="none" stroke-linecap="round" stroke-linejoin="round"/><path d="M1330.30 494.57L1332.90 497.27L1339.40 491.27" stroke="#d2ead7" stroke-width="1.45" fill="none" stroke-linecap="round" stroke-linejoin="round"/><path d="M1354.30 494.57L1356.90 497.27L1363.40 491.27" stroke="#d2ead7" stroke-width="1.45" fill="none" stroke-linecap="round" stroke-linejoin="round"/><path d="M1378.30 494.57L1380.90 497.27L1387.40 491.27" stroke="#d2ead7" stroke-width="1.45" fill="none" stroke-linecap="round" stroke-linejoin="round"/><path d="M1402.30 494.57L1404.90 497.27L1411.40 491.27" stroke="#d2ead7" stroke-width="1.45" fill="none" stroke-linecap="round" stroke-linejoin="round"/><path d="M1426.30 494.57L1428.90 497.27L1435.40 491.27" stroke="#d2ead7" stroke-width="1.45" fill="none" stroke-linecap="round" stroke-linejoin="round"/><path d="M1450.30 494.57L1452.90 497.27L1459.40 491.27" stroke="#d2ead7" stroke-width="1.45" fill="none" stroke-linecap="round" stroke-linejoin="round"/><path d="M1474.30 494.57L1476.90 497.27L1483.40 491.27" stroke="#d2ead7" stroke-width="1.45" fill="none" stroke-linecap="round" stroke-linejoin="round"/><path d="M1498.30 494.57L1500.90 497.27L1507.40 491.27" stroke="#d2ead7" stroke-width="1.45" fill="none" stroke-linecap="round" stroke-linejoin="round"/><path d="M1522.30 494.57L1524.90 497.27L1531.40 491.27" stroke="#d2ead7" stroke-width="1.45" fill="none" stroke-linecap="round" stroke-linejoin="round"/><path d="M1306.30 521.22L1308.90 523.91L1315.40 517.91" stroke="#d2ead7" stroke-width="1.45" fill="none" stroke-linecap="round" stroke-linejoin="round"/><path d="M1330.30 521.22L1332.90 523.91L1339.40 517.91" stroke="#d2ead7" stroke-width="1.45" fill="none" stroke-linecap="round" stroke-linejoin="round"/><path d="M1354.30 521.22L1356.90 523.91L1363.40 517.91" stroke="#d2ead7" stroke-width="1.45" fill="none" stroke-linecap="round" stroke-linejoin="round"/><path d="M1378.30 521.22L1380.90 523.91L1387.40 517.91" stroke="#d2ead7" stroke-width="1.45" fill="none" stroke-linecap="round" stroke-linejoin="round"/><path d="M1402.30 521.22L1404.90 523.91L1411.40 517.91" stroke="#d2ead7" stroke-width="1.45" fill="none" stroke-linecap="round" stroke-linejoin="round"/><path d="M1426.30 521.22L1428.90 523.91L1435.40 517.91" stroke="#d2ead7" stroke-width="1.45" fill="none" stroke-linecap="round" stroke-linejoin="round"/><path d="M1450.30 521.22L1452.90 523.91L1459.40 517.91" stroke="#d2ead7" stroke-width="1.45" fill="none" stroke-linecap="round" stroke-linejoin="round"/><path d="M1474.30 521.22L1476.90 523.91L1483.40 517.91" stroke="#d2ead7" stroke-width="1.45" fill="none" stroke-linecap="round" stroke-linejoin="round"/><path d="M1498.30 521.22L1500.90 523.91L1507.40 517.91" stroke="#d2ead7" stroke-width="1.45" fill="none" stroke-linecap="round" stroke-linejoin="round"/><path d="M1522.30 521.22L1524.90 523.91L1531.40 517.91" stroke="#d2ead7" stroke-width="1.45" fill="none" stroke-linecap="round" stroke-linejoin="round"/><path d="M1306.30 547.86L1308.90 550.56L1315.40 544.56" stroke="#d2ead7" stroke-width="1.45" fill="none" stroke-linecap="round" stroke-linejoin="round"/><path d="M1330.30 547.86L1332.90 550.56L1339.40 544.56" stroke="#d2ead7" stroke-width="1.45" fill="none" stroke-linecap="round" stroke-linejoin="round"/><path d="M1354.30 547.86L1356.90 550.56L1363.40 544.56" stroke="#d2ead7" stroke-width="1.45" fill="none" stroke-linecap="round" stroke-linejoin="round"/><path d="M1378.30 547.86L1380.90 550.56L1387.40 544.56" stroke="#d2ead7" stroke-width="1.45" fill="none" stroke-linecap="round" stroke-linejoin="round"/><path d="M1402.30 547.86L1404.90 550.56L1411.40 544.56" stroke="#d2ead7" stroke-width="1.45" fill="none" stroke-linecap="round" stroke-linejoin="round"/><path d="M1426.30 547.86L1428.90 550.56L1435.40 544.56" stroke="#d2ead7" stroke-width="1.45" fill="none" stroke-linecap="round" stroke-linejoin="round"/><path d="M1450.30 547.86L1452.90 550.56L1459.40 544.56" stroke="#d2ead7" stroke-width="1.45" fill="none" stroke-linecap="round" stroke-linejoin="round"/><path d="M1474.30 547.86L1476.90 550.56L1483.40 544.56" stroke="#d2ead7" stroke-width="1.45" fill="none" stroke-linecap="round" stroke-linejoin="round"/><path d="M1498.30 547.86L1500.90 550.56L1507.40 544.56" stroke="#d2ead7" stroke-width="1.45" fill="none" stroke-linecap="round" stroke-linejoin="round"/><path d="M1522.30 547.86L1524.90 550.56L1531.40 544.56" stroke="#d2ead7" stroke-width="1.45" fill="none" stroke-linecap="round" stroke-linejoin="round"/><path d="M1306.30 574.50L1308.90 577.20L1315.40 571.20" stroke="#d2ead7" stroke-width="1.45" fill="none" stroke-linecap="round" stroke-linejoin="round"/><path d="M1330.30 574.50L1332.90 577.20L1339.40 571.20" stroke="#d2ead7" stroke-width="1.45" fill="none" stroke-linecap="round" stroke-linejoin="round"/><path d="M1354.30 574.50L1356.90 577.20L1363.40 571.20" stroke="#d2ead7" stroke-width="1.45" fill="none" stroke-linecap="round" stroke-linejoin="round"/><path d="M1378.30 574.50L1380.90 577.20L1387.40 571.20" stroke="#d2ead7" stroke-width="1.45" fill="none" stroke-linecap="round" stroke-linejoin="round"/><path d="M1402.30 574.50L1404.90 577.20L1411.40 571.20" stroke="#d2ead7" stroke-width="1.45" fill="none" stroke-linecap="round" stroke-linejoin="round"/><path d="M1426.30 574.50L1428.90 577.20L1435.40 571.20" stroke="#d2ead7" stroke-width="1.45" fill="none" stroke-linecap="round" stroke-linejoin="round"/><path d="M1450.30 574.50L1452.90 577.20L1459.40 571.20" stroke="#d2ead7" stroke-width="1.45" fill="none" stroke-linecap="round" stroke-linejoin="round"/><path d="M1474.30 574.50L1476.90 577.20L1483.40 571.20" stroke="#d2ead7" stroke-width="1.45" fill="none" stroke-linecap="round" stroke-linejoin="round"/><path d="M1498.30 574.50L1500.90 577.20L1507.40 571.20" stroke="#d2ead7" stroke-width="1.45" fill="none" stroke-linecap="round" stroke-linejoin="round"/><path d="M1522.30 574.50L1524.90 577.20L1531.40 571.20" stroke="#d2ead7" stroke-width="1.45" fill="none" stroke-linecap="round" stroke-linejoin="round"/><path d="M1306.30 601.15L1308.90 603.85L1315.40 597.85" stroke="#d2ead7" stroke-width="1.45" fill="none" stroke-linecap="round" stroke-linejoin="round"/><path d="M1330.30 601.15L1332.90 603.85L1339.40 597.85" stroke="#d2ead7" stroke-width="1.45" fill="none" stroke-linecap="round" stroke-linejoin="round"/><path d="M1354.30 601.15L1356.90 603.85L1363.40 597.85" stroke="#d2ead7" stroke-width="1.45" fill="none" stroke-linecap="round" stroke-linejoin="round"/><path d="M1378.30 601.15L1380.90 603.85L1387.40 597.85" stroke="#d2ead7" stroke-width="1.45" fill="none" stroke-linecap="round" stroke-linejoin="round"/><path d="M1402.30 601.15L1404.90 603.85L1411.40 597.85" stroke="#d2ead7" stroke-width="1.45" fill="none" stroke-linecap="round" stroke-linejoin="round"/><path d="M1426.30 601.15L1428.90 603.85L1435.40 597.85" stroke="#d2ead7" stroke-width="1.45" fill="none" stroke-linecap="round" stroke-linejoin="round"/><path d="M1450.30 601.15L1452.90 603.85L1459.40 597.85" stroke="#d2ead7" stroke-width="1.45" fill="none" stroke-linecap="round" stroke-linejoin="round"/><path d="M1474.30 601.15L1476.90 603.85L1483.40 597.85" stroke="#d2ead7" stroke-width="1.45" fill="none" stroke-linecap="round" stroke-linejoin="round"/><path d="M1498.30 601.15L1500.90 603.85L1507.40 597.85" stroke="#d2ead7" stroke-width="1.45" fill="none" stroke-linecap="round" stroke-linejoin="round"/><path d="M1522.30 601.15L1524.90 603.85L1531.40 597.85" stroke="#d2ead7" stroke-width="1.45" fill="none" stroke-linecap="round" stroke-linejoin="round"/><path d="M1306.30 627.79L1308.90 630.49L1315.40 624.49" stroke="#d2ead7" stroke-width="1.45" fill="none" stroke-linecap="round" stroke-linejoin="round"/><path d="M1330.30 627.79L1332.90 630.49L1339.40 624.49" stroke="#d2ead7" stroke-width="1.45" fill="none" stroke-linecap="round" stroke-linejoin="round"/><path d="M1354.30 627.79L1356.90 630.49L1363.40 624.49" stroke="#d2ead7" stroke-width="1.45" fill="none" stroke-linecap="round" stroke-linejoin="round"/><path d="M1378.30 627.79L1380.90 630.49L1387.40 624.49" stroke="#d2ead7" stroke-width="1.45" fill="none" stroke-linecap="round" stroke-linejoin="round"/><path d="M1402.30 627.79L1404.90 630.49L1411.40 624.49" stroke="#d2ead7" stroke-width="1.45" fill="none" stroke-linecap="round" stroke-linejoin="round"/><path d="M1426.30 627.79L1428.90 630.49L1435.40 624.49" stroke="#d2ead7" stroke-width="1.45" fill="none" stroke-linecap="round" stroke-linejoin="round"/><path d="M1450.30 627.79L1452.90 630.49L1459.40 624.49" stroke="#d2ead7" stroke-width="1.45" fill="none" stroke-linecap="round" stroke-linejoin="round"/><path d="M1474.30 627.79L1476.90 630.49L1483.40 624.49" stroke="#d2ead7" stroke-width="1.45" fill="none" stroke-linecap="round" stroke-linejoin="round"/><path d="M1498.30 627.79L1500.90 630.49L1507.40 624.49" stroke="#d2ead7" stroke-width="1.45" fill="none" stroke-linecap="round" stroke-linejoin="round"/><path d="M1522.30 627.79L1524.90 630.49L1531.40 624.49" stroke="#d2ead7" stroke-width="1.45" fill="none" stroke-linecap="round" stroke-linejoin="round"/><path d="M1306.30 654.44L1308.90 657.14L1315.40 651.14" stroke="#d2ead7" stroke-width="1.45" fill="none" stroke-linecap="round" stroke-linejoin="round"/><path d="M1330.30 654.44L1332.90 657.14L1339.40 651.14" stroke="#d2ead7" stroke-width="1.45" fill="none" stroke-linecap="round" stroke-linejoin="round"/><path d="M1354.30 654.44L1356.90 657.14L1363.40 651.14" stroke="#d2ead7" stroke-width="1.45" fill="none" stroke-linecap="round" stroke-linejoin="round"/><path d="M1378.30 654.44L1380.90 657.14L1387.40 651.14" stroke="#d2ead7" stroke-width="1.45" fill="none" stroke-linecap="round" stroke-linejoin="round"/><path d="M1402.30 654.44L1404.90 657.14L1411.40 651.14" stroke="#d2ead7" stroke-width="1.45" fill="none" stroke-linecap="round" stroke-linejoin="round"/><path d="M1426.30 654.44L1428.90 657.14L1435.40 651.14" stroke="#d2ead7" stroke-width="1.45" fill="none" stroke-linecap="round" stroke-linejoin="round"/><path d="M1450.30 654.44L1452.90 657.14L1459.40 651.14" stroke="#d2ead7" stroke-width="1.45" fill="none" stroke-linecap="round" stroke-linejoin="round"/><path d="M1474.30 654.44L1476.90 657.14L1483.40 651.14" stroke="#d2ead7" stroke-width="1.45" fill="none" stroke-linecap="round" stroke-linejoin="round"/><path d="M1498.30 654.44L1500.90 657.14L1507.40 651.14" stroke="#d2ead7" stroke-width="1.45" fill="none" stroke-linecap="round" stroke-linejoin="round"/><path d="M1522.30 654.44L1524.90 657.14L1531.40 651.14" stroke="#d2ead7" stroke-width="1.45" fill="none" stroke-linecap="round" stroke-linejoin="round"/><path d="M1306.30 681.09L1308.90 683.78L1315.40 677.78" stroke="#d2ead7" stroke-width="1.45" fill="none" stroke-linecap="round" stroke-linejoin="round"/><path d="M1330.30 681.09L1332.90 683.78L1339.40 677.78" stroke="#d2ead7" stroke-width="1.45" fill="none" stroke-linecap="round" stroke-linejoin="round"/><path d="M1354.30 681.09L1356.90 683.78L1363.40 677.78" stroke="#d2ead7" stroke-width="1.45" fill="none" stroke-linecap="round" stroke-linejoin="round"/><path d="M1378.30 681.09L1380.90 683.78L1387.40 677.78" stroke="#d2ead7" stroke-width="1.45" fill="none" stroke-linecap="round" stroke-linejoin="round"/><path d="M1402.30 681.09L1404.90 683.78L1411.40 677.78" stroke="#d2ead7" stroke-width="1.45" fill="none" stroke-linecap="round" stroke-linejoin="round"/><path d="M1426.30 681.09L1428.90 683.78L1435.40 677.78" stroke="#d2ead7" stroke-width="1.45" fill="none" stroke-linecap="round" stroke-linejoin="round"/><path d="M1450.30 681.09L1452.90 683.78L1459.40 677.78" stroke="#d2ead7" stroke-width="1.45" fill="none" stroke-linecap="round" stroke-linejoin="round"/><path d="M1474.30 681.09L1476.90 683.78L1483.40 677.78" stroke="#d2ead7" stroke-width="1.45" fill="none" stroke-linecap="round" stroke-linejoin="round"/><path d="M1498.30 681.09L1500.90 683.78L1507.40 677.78" stroke="#d2ead7" stroke-width="1.45" fill="none" stroke-linecap="round" stroke-linejoin="round"/><path d="M1522.30 681.09L1524.90 683.78L1531.40 677.78" stroke="#d2ead7" stroke-width="1.45" fill="none" stroke-linecap="round" stroke-linejoin="round"/><path d="M1306.30 707.73L1308.90 710.43L1315.40 704.43" stroke="#d2ead7" stroke-width="1.45" fill="none" stroke-linecap="round" stroke-linejoin="round"/><path d="M1330.30 707.73L1332.90 710.43L1339.40 704.43" stroke="#d2ead7" stroke-width="1.45" fill="none" stroke-linecap="round" stroke-linejoin="round"/><path d="M1354.30 707.73L1356.90 710.43L1363.40 704.43" stroke="#d2ead7" stroke-width="1.45" fill="none" stroke-linecap="round" stroke-linejoin="round"/><path d="M1378.30 707.73L1380.90 710.43L1387.40 704.43" stroke="#d2ead7" stroke-width="1.45" fill="none" stroke-linecap="round" stroke-linejoin="round"/><path d="M1402.30 707.73L1404.90 710.43L1411.40 704.43" stroke="#d2ead7" stroke-width="1.45" fill="none" stroke-linecap="round" stroke-linejoin="round"/><path d="M1426.30 707.73L1428.90 710.43L1435.40 704.43" stroke="#d2ead7" stroke-width="1.45" fill="none" stroke-linecap="round" stroke-linejoin="round"/><path d="M1450.30 707.73L1452.90 710.43L1459.40 704.43" stroke="#d2ead7" stroke-width="1.45" fill="none" stroke-linecap="round" stroke-linejoin="round"/><path d="M1474.30 707.73L1476.90 710.43L1483.40 704.43" stroke="#d2ead7" stroke-width="1.45" fill="none" stroke-linecap="round" stroke-linejoin="round"/><path d="M1498.30 707.73L1500.90 710.43L1507.40 704.43" stroke="#d2ead7" stroke-width="1.45" fill="none" stroke-linecap="round" stroke-linejoin="round"/><path d="M1522.30 707.73L1524.90 710.43L1531.40 704.43" stroke="#d2ead7" stroke-width="1.45" fill="none" stroke-linecap="round" stroke-linejoin="round"/><path d="M1306.30 734.38L1308.90 737.08L1315.40 731.08" stroke="#d2ead7" stroke-width="1.45" fill="none" stroke-linecap="round" stroke-linejoin="round"/><path d="M1330.30 734.38L1332.90 737.08L1339.40 731.08" stroke="#d2ead7" stroke-width="1.45" fill="none" stroke-linecap="round" stroke-linejoin="round"/><path d="M1354.30 734.38L1356.90 737.08L1363.40 731.08" stroke="#d2ead7" stroke-width="1.45" fill="none" stroke-linecap="round" stroke-linejoin="round"/><path d="M1378.30 734.38L1380.90 737.08L1387.40 731.08" stroke="#d2ead7" stroke-width="1.45" fill="none" stroke-linecap="round" stroke-linejoin="round"/><path d="M1402.30 734.38L1404.90 737.08L1411.40 731.08" stroke="#d2ead7" stroke-width="1.45" fill="none" stroke-linecap="round" stroke-linejoin="round"/><path d="M1426.30 734.38L1428.90 737.08L1435.40 731.08" stroke="#d2ead7" stroke-width="1.45" fill="none" stroke-linecap="round" stroke-linejoin="round"/><path d="M1450.30 734.38L1452.90 737.08L1459.40 731.08" stroke="#d2ead7" stroke-width="1.45" fill="none" stroke-linecap="round" stroke-linejoin="round"/><path d="M1474.30 734.38L1476.90 737.08L1483.40 731.08" stroke="#d2ead7" stroke-width="1.45" fill="none" stroke-linecap="round" stroke-linejoin="round"/><path d="M1498.30 734.38L1500.90 737.08L1507.40 731.08" stroke="#d2ead7" stroke-width="1.45" fill="none" stroke-linecap="round" stroke-linejoin="round"/><path d="M1522.30 734.38L1524.90 737.08L1531.40 731.08" stroke="#d2ead7" stroke-width="1.45" fill="none" stroke-linecap="round" stroke-linejoin="round"/><path d="M1307.30 756.92L1313.90 763.62M1313.90 756.92L1307.30 763.62" stroke="#ffffff" stroke-width="1.45" fill="none" stroke-linecap="round"/><path d="M1331.30 756.92L1337.90 763.62M1337.90 756.92L1331.30 763.62" stroke="#ffffff" stroke-width="1.45" fill="none" stroke-linecap="round"/><path d="M1354.30 761.02L1356.90 763.72L1363.40 757.72" stroke="#d2ead7" stroke-width="1.45" fill="none" stroke-linecap="round" stroke-linejoin="round"/><path d="M1378.30 761.02L1380.90 763.72L1387.40 757.72" stroke="#d2ead7" stroke-width="1.45" fill="none" stroke-linecap="round" stroke-linejoin="round"/><path d="M1402.30 761.02L1404.90 763.72L1411.40 757.72" stroke="#d2ead7" stroke-width="1.45" fill="none" stroke-linecap="round" stroke-linejoin="round"/><path d="M1426.30 761.02L1428.90 763.72L1435.40 757.72" stroke="#d2ead7" stroke-width="1.45" fill="none" stroke-linecap="round" stroke-linejoin="round"/><path d="M1450.30 761.02L1452.90 763.72L1459.40 757.72" stroke="#d2ead7" stroke-width="1.45" fill="none" stroke-linecap="round" stroke-linejoin="round"/><path d="M1474.30 761.02L1476.90 763.72L1483.40 757.72" stroke="#d2ead7" stroke-width="1.45" fill="none" stroke-linecap="round" stroke-linejoin="round"/><path d="M1498.30 761.02L1500.90 763.72L1507.40 757.72" stroke="#d2ead7" stroke-width="1.45" fill="none" stroke-linecap="round" stroke-linejoin="round"/><path d="M1522.30 761.02L1524.90 763.72L1531.40 757.72" stroke="#d2ead7" stroke-width="1.45" fill="none" stroke-linecap="round" stroke-linejoin="round"/><path d="M1306.30 787.67L1308.90 790.37L1315.40 784.37" stroke="#d2ead7" stroke-width="1.45" fill="none" stroke-linecap="round" stroke-linejoin="round"/><path d="M1330.30 787.67L1332.90 790.37L1339.40 784.37" stroke="#d2ead7" stroke-width="1.45" fill="none" stroke-linecap="round" stroke-linejoin="round"/><path d="M1354.30 787.67L1356.90 790.37L1363.40 784.37" stroke="#d2ead7" stroke-width="1.45" fill="none" stroke-linecap="round" stroke-linejoin="round"/><path d="M1378.30 787.67L1380.90 790.37L1387.40 784.37" stroke="#d2ead7" stroke-width="1.45" fill="none" stroke-linecap="round" stroke-linejoin="round"/><path d="M1402.30 787.67L1404.90 790.37L1411.40 784.37" stroke="#d2ead7" stroke-width="1.45" fill="none" stroke-linecap="round" stroke-linejoin="round"/><path d="M1426.30 787.67L1428.90 790.37L1435.40 784.37" stroke="#d2ead7" stroke-width="1.45" fill="none" stroke-linecap="round" stroke-linejoin="round"/><path d="M1450.30 787.67L1452.90 790.37L1459.40 784.37" stroke="#d2ead7" stroke-width="1.45" fill="none" stroke-linecap="round" stroke-linejoin="round"/><path d="M1474.30 787.67L1476.90 790.37L1483.40 784.37" stroke="#d2ead7" stroke-width="1.45" fill="none" stroke-linecap="round" stroke-linejoin="round"/><path d="M1498.30 787.67L1500.90 790.37L1507.40 784.37" stroke="#d2ead7" stroke-width="1.45" fill="none" stroke-linecap="round" stroke-linejoin="round"/><path d="M1522.30 787.67L1524.90 790.37L1531.40 784.37" stroke="#d2ead7" stroke-width="1.45" fill="none" stroke-linecap="round" stroke-linejoin="round"/><circle cx="1310.50" cy="814.11" r="5.6" stroke="#fbe3da" stroke-width="1.4" fill="none" stroke-dasharray="5 2.2 1.2 2.2 4 2.5 1.2 2.2" transform="rotate(-80 1310.50 814.11)"/><path d="M1310.50 817.31V811.21M1308.10 813.71L1310.50 811.21L1312.90 813.71" stroke="#ffffff" stroke-width="1.25" fill="none" stroke-linecap="round" stroke-linejoin="round"/><circle cx="1334.50" cy="814.11" r="5.6" stroke="#fbe3da" stroke-width="1.4" fill="none" stroke-dasharray="5 2.2 1.2 2.2 4 2.5 1.2 2.2" transform="rotate(-80 1334.50 814.11)"/><path d="M1334.50 817.31V811.21M1332.10 813.71L1334.50 811.21L1336.90 813.71" stroke="#ffffff" stroke-width="1.25" fill="none" stroke-linecap="round" stroke-linejoin="round"/><path d="M1354.30 814.31L1356.90 817.01L1363.40 811.01" stroke="#d2ead7" stroke-width="1.45" fill="none" stroke-linecap="round" stroke-linejoin="round"/><path d="M1378.30 814.31L1380.90 817.01L1387.40 811.01" stroke="#d2ead7" stroke-width="1.45" fill="none" stroke-linecap="round" stroke-linejoin="round"/><path d="M1402.30 814.31L1404.90 817.01L1411.40 811.01" stroke="#d2ead7" stroke-width="1.45" fill="none" stroke-linecap="round" stroke-linejoin="round"/><path d="M1426.30 814.31L1428.90 817.01L1435.40 811.01" stroke="#d2ead7" stroke-width="1.45" fill="none" stroke-linecap="round" stroke-linejoin="round"/><path d="M1450.30 814.31L1452.90 817.01L1459.40 811.01" stroke="#d2ead7" stroke-width="1.45" fill="none" stroke-linecap="round" stroke-linejoin="round"/><path d="M1474.30 814.31L1476.90 817.01L1483.40 811.01" stroke="#d2ead7" stroke-width="1.45" fill="none" stroke-linecap="round" stroke-linejoin="round"/><path d="M1498.30 814.31L1500.90 817.01L1507.40 811.01" stroke="#d2ead7" stroke-width="1.45" fill="none" stroke-linecap="round" stroke-linejoin="round"/><path d="M1522.30 814.31L1524.90 817.01L1531.40 811.01" stroke="#d2ead7" stroke-width="1.45" fill="none" stroke-linecap="round" stroke-linejoin="round"/><circle cx="1310.50" cy="840.75" r="5.6" stroke="#fbe3da" stroke-width="1.4" fill="none" stroke-dasharray="5 2.2 1.2 2.2 4 2.5 1.2 2.2" transform="rotate(-80 1310.50 840.75)"/><path d="M1310.50 843.96V837.86M1308.10 840.36L1310.50 837.86L1312.90 840.36" stroke="#ffffff" stroke-width="1.25" fill="none" stroke-linecap="round" stroke-linejoin="round"/><circle cx="1334.50" cy="840.75" r="5.6" stroke="#fbe3da" stroke-width="1.4" fill="none" stroke-dasharray="5 2.2 1.2 2.2 4 2.5 1.2 2.2" transform="rotate(-80 1334.50 840.75)"/><path d="M1334.50 843.96V837.86M1332.10 840.36L1334.50 837.86L1336.90 840.36" stroke="#ffffff" stroke-width="1.25" fill="none" stroke-linecap="round" stroke-linejoin="round"/><path d="M1354.30 840.96L1356.90 843.65L1363.40 837.65" stroke="#d2ead7" stroke-width="1.45" fill="none" stroke-linecap="round" stroke-linejoin="round"/><path d="M1378.30 840.96L1380.90 843.65L1387.40 837.65" stroke="#d2ead7" stroke-width="1.45" fill="none" stroke-linecap="round" stroke-linejoin="round"/><path d="M1402.30 840.96L1404.90 843.65L1411.40 837.65" stroke="#d2ead7" stroke-width="1.45" fill="none" stroke-linecap="round" stroke-linejoin="round"/><path d="M1426.30 840.96L1428.90 843.65L1435.40 837.65" stroke="#d2ead7" stroke-width="1.45" fill="none" stroke-linecap="round" stroke-linejoin="round"/><path d="M1450.30 840.96L1452.90 843.65L1459.40 837.65" stroke="#d2ead7" stroke-width="1.45" fill="none" stroke-linecap="round" stroke-linejoin="round"/><path d="M1474.30 840.96L1476.90 843.65L1483.40 837.65" stroke="#d2ead7" stroke-width="1.45" fill="none" stroke-linecap="round" stroke-linejoin="round"/><path d="M1498.30 840.96L1500.90 843.65L1507.40 837.65" stroke="#d2ead7" stroke-width="1.45" fill="none" stroke-linecap="round" stroke-linejoin="round"/><path d="M1522.30 840.96L1524.90 843.65L1531.40 837.65" stroke="#d2ead7" stroke-width="1.45" fill="none" stroke-linecap="round" stroke-linejoin="round"/><circle cx="1310.50" cy="867.40" r="5.6" stroke="#fbe3da" stroke-width="1.4" fill="none" stroke-dasharray="5 2.2 1.2 2.2 4 2.5 1.2 2.2" transform="rotate(-80 1310.50 867.40)"/><path d="M1310.50 870.60V864.50M1308.10 867.00L1310.50 864.50L1312.90 867.00" stroke="#ffffff" stroke-width="1.25" fill="none" stroke-linecap="round" stroke-linejoin="round"/><circle cx="1334.50" cy="867.40" r="5.6" stroke="#fbe3da" stroke-width="1.4" fill="none" stroke-dasharray="5 2.2 1.2 2.2 4 2.5 1.2 2.2" transform="rotate(-80 1334.50 867.40)"/><path d="M1334.50 870.60V864.50M1332.10 867.00L1334.50 864.50L1336.90 867.00" stroke="#ffffff" stroke-width="1.25" fill="none" stroke-linecap="round" stroke-linejoin="round"/><path d="M1354.30 867.60L1356.90 870.30L1363.40 864.30" stroke="#d2ead7" stroke-width="1.45" fill="none" stroke-linecap="round" stroke-linejoin="round"/><path d="M1378.30 867.60L1380.90 870.30L1387.40 864.30" stroke="#d2ead7" stroke-width="1.45" fill="none" stroke-linecap="round" stroke-linejoin="round"/><path d="M1402.30 867.60L1404.90 870.30L1411.40 864.30" stroke="#d2ead7" stroke-width="1.45" fill="none" stroke-linecap="round" stroke-linejoin="round"/><path d="M1426.30 867.60L1428.90 870.30L1435.40 864.30" stroke="#d2ead7" stroke-width="1.45" fill="none" stroke-linecap="round" stroke-linejoin="round"/><path d="M1450.30 867.60L1452.90 870.30L1459.40 864.30" stroke="#d2ead7" stroke-width="1.45" fill="none" stroke-linecap="round" stroke-linejoin="round"/><path d="M1474.30 867.60L1476.90 870.30L1483.40 864.30" stroke="#d2ead7" stroke-width="1.45" fill="none" stroke-linecap="round" stroke-linejoin="round"/><path d="M1498.30 867.60L1500.90 870.30L1507.40 864.30" stroke="#d2ead7" stroke-width="1.45" fill="none" stroke-linecap="round" stroke-linejoin="round"/><path d="M1522.30 867.60L1524.90 870.30L1531.40 864.30" stroke="#d2ead7" stroke-width="1.45" fill="none" stroke-linecap="round" stroke-linejoin="round"/><circle cx="1310.50" cy="894.04" r="5.6" stroke="#fbe3da" stroke-width="1.4" fill="none" stroke-dasharray="5 2.2 1.2 2.2 4 2.5 1.2 2.2" transform="rotate(-80 1310.50 894.04)"/><path d="M1310.50 897.25V891.14M1308.10 893.64L1310.50 891.14L1312.90 893.64" stroke="#ffffff" stroke-width="1.25" fill="none" stroke-linecap="round" stroke-linejoin="round"/><circle cx="1334.50" cy="894.04" r="5.6" stroke="#fbe3da" stroke-width="1.4" fill="none" stroke-dasharray="5 2.2 1.2 2.2 4 2.5 1.2 2.2" transform="rotate(-80 1334.50 894.04)"/><path d="M1334.50 897.25V891.14M1332.10 893.64L1334.50 891.14L1336.90 893.64" stroke="#ffffff" stroke-width="1.25" fill="none" stroke-linecap="round" stroke-linejoin="round"/><path d="M1354.30 894.25L1356.90 896.94L1363.40 890.94" stroke="#d2ead7" stroke-width="1.45" fill="none" stroke-linecap="round" stroke-linejoin="round"/><path d="M1378.30 894.25L1380.90 896.94L1387.40 890.94" stroke="#d2ead7" stroke-width="1.45" fill="none" stroke-linecap="round" stroke-linejoin="round"/><path d="M1402.30 894.25L1404.90 896.94L1411.40 890.94" stroke="#d2ead7" stroke-width="1.45" fill="none" stroke-linecap="round" stroke-linejoin="round"/><path d="M1426.30 894.25L1428.90 896.94L1435.40 890.94" stroke="#d2ead7" stroke-width="1.45" fill="none" stroke-linecap="round" stroke-linejoin="round"/><path d="M1450.30 894.25L1452.90 896.94L1459.40 890.94" stroke="#d2ead7" stroke-width="1.45" fill="none" stroke-linecap="round" stroke-linejoin="round"/><path d="M1474.30 894.25L1476.90 896.94L1483.40 890.94" stroke="#d2ead7" stroke-width="1.45" fill="none" stroke-linecap="round" stroke-linejoin="round"/><path d="M1498.30 894.25L1500.90 896.94L1507.40 890.94" stroke="#d2ead7" stroke-width="1.45" fill="none" stroke-linecap="round" stroke-linejoin="round"/><path d="M1522.30 894.25L1524.90 896.94L1531.40 890.94" stroke="#d2ead7" stroke-width="1.45" fill="none" stroke-linecap="round" stroke-linejoin="round"/><circle cx="1310.50" cy="920.69" r="5.6" stroke="#fbe3da" stroke-width="1.4" fill="none" stroke-dasharray="5 2.2 1.2 2.2 4 2.5 1.2 2.2" transform="rotate(-80 1310.50 920.69)"/><path d="M1310.50 923.89V917.79M1308.10 920.29L1310.50 917.79L1312.90 920.29" stroke="#ffffff" stroke-width="1.25" fill="none" stroke-linecap="round" stroke-linejoin="round"/><circle cx="1334.50" cy="920.69" r="5.6" stroke="#fbe3da" stroke-width="1.4" fill="none" stroke-dasharray="5 2.2 1.2 2.2 4 2.5 1.2 2.2" transform="rotate(-80 1334.50 920.69)"/><path d="M1334.50 923.89V917.79M1332.10 920.29L1334.50 917.79L1336.90 920.29" stroke="#ffffff" stroke-width="1.25" fill="none" stroke-linecap="round" stroke-linejoin="round"/><path d="M1354.30 920.89L1356.90 923.59L1363.40 917.59" stroke="#d2ead7" stroke-width="1.45" fill="none" stroke-linecap="round" stroke-linejoin="round"/><path d="M1378.30 920.89L1380.90 923.59L1387.40 917.59" stroke="#d2ead7" stroke-width="1.45" fill="none" stroke-linecap="round" stroke-linejoin="round"/><path d="M1402.30 920.89L1404.90 923.59L1411.40 917.59" stroke="#d2ead7" stroke-width="1.45" fill="none" stroke-linecap="round" stroke-linejoin="round"/><path d="M1426.30 920.89L1428.90 923.59L1435.40 917.59" stroke="#d2ead7" stroke-width="1.45" fill="none" stroke-linecap="round" stroke-linejoin="round"/><path d="M1450.30 920.89L1452.90 923.59L1459.40 917.59" stroke="#d2ead7" stroke-width="1.45" fill="none" stroke-linecap="round" stroke-linejoin="round"/><path d="M1474.30 920.89L1476.90 923.59L1483.40 917.59" stroke="#d2ead7" stroke-width="1.45" fill="none" stroke-linecap="round" stroke-linejoin="round"/><path d="M1498.30 920.89L1500.90 923.59L1507.40 917.59" stroke="#d2ead7" stroke-width="1.45" fill="none" stroke-linecap="round" stroke-linejoin="round"/><path d="M1522.30 920.89L1524.90 923.59L1531.40 917.59" stroke="#d2ead7" stroke-width="1.45" fill="none" stroke-linecap="round" stroke-linejoin="round"/><circle cx="1310.50" cy="947.34" r="5.6" stroke="#fbe3da" stroke-width="1.4" fill="none" stroke-dasharray="5 2.2 1.2 2.2 4 2.5 1.2 2.2" transform="rotate(-80 1310.50 947.34)"/><path d="M1310.50 950.54V944.44M1308.10 946.94L1310.50 944.44L1312.90 946.94" stroke="#ffffff" stroke-width="1.25" fill="none" stroke-linecap="round" stroke-linejoin="round"/><circle cx="1334.50" cy="947.34" r="5.6" stroke="#fbe3da" stroke-width="1.4" fill="none" stroke-dasharray="5 2.2 1.2 2.2 4 2.5 1.2 2.2" transform="rotate(-80 1334.50 947.34)"/><path d="M1334.50 950.54V944.44M1332.10 946.94L1334.50 944.44L1336.90 946.94" stroke="#ffffff" stroke-width="1.25" fill="none" stroke-linecap="round" stroke-linejoin="round"/><path d="M1354.30 947.54L1356.90 950.24L1363.40 944.24" stroke="#d2ead7" stroke-width="1.45" fill="none" stroke-linecap="round" stroke-linejoin="round"/><path d="M1378.30 947.54L1380.90 950.24L1387.40 944.24" stroke="#d2ead7" stroke-width="1.45" fill="none" stroke-linecap="round" stroke-linejoin="round"/><path d="M1402.30 947.54L1404.90 950.24L1411.40 944.24" stroke="#d2ead7" stroke-width="1.45" fill="none" stroke-linecap="round" stroke-linejoin="round"/><path d="M1426.30 947.54L1428.90 950.24L1435.40 944.24" stroke="#d2ead7" stroke-width="1.45" fill="none" stroke-linecap="round" stroke-linejoin="round"/><path d="M1450.30 947.54L1452.90 950.24L1459.40 944.24" stroke="#d2ead7" stroke-width="1.45" fill="none" stroke-linecap="round" stroke-linejoin="round"/><path d="M1474.30 947.54L1476.90 950.24L1483.40 944.24" stroke="#d2ead7" stroke-width="1.45" fill="none" stroke-linecap="round" stroke-linejoin="round"/><path d="M1498.30 947.54L1500.90 950.24L1507.40 944.24" stroke="#d2ead7" stroke-width="1.45" fill="none" stroke-linecap="round" stroke-linejoin="round"/><path d="M1522.30 947.54L1524.90 950.24L1531.40 944.24" stroke="#d2ead7" stroke-width="1.45" fill="none" stroke-linecap="round" stroke-linejoin="round"/><circle cx="1310.50" cy="973.98" r="5.6" stroke="#fbe3da" stroke-width="1.4" fill="none" stroke-dasharray="5 2.2 1.2 2.2 4 2.5 1.2 2.2" transform="rotate(-80 1310.50 973.98)"/><path d="M1310.50 977.18V971.08M1308.10 973.58L1310.50 971.08L1312.90 973.58" stroke="#ffffff" stroke-width="1.25" fill="none" stroke-linecap="round" stroke-linejoin="round"/><circle cx="1334.50" cy="973.98" r="5.6" stroke="#fbe3da" stroke-width="1.4" fill="none" stroke-dasharray="5 2.2 1.2 2.2 4 2.5 1.2 2.2" transform="rotate(-80 1334.50 973.98)"/><path d="M1334.50 977.18V971.08M1332.10 973.58L1334.50 971.08L1336.90 973.58" stroke="#ffffff" stroke-width="1.25" fill="none" stroke-linecap="round" stroke-linejoin="round"/><path d="M1354.30 974.18L1356.90 976.88L1363.40 970.88" stroke="#d2ead7" stroke-width="1.45" fill="none" stroke-linecap="round" stroke-linejoin="round"/><path d="M1378.30 974.18L1380.90 976.88L1387.40 970.88" stroke="#d2ead7" stroke-width="1.45" fill="none" stroke-linecap="round" stroke-linejoin="round"/><path d="M1402.30 974.18L1404.90 976.88L1411.40 970.88" stroke="#d2ead7" stroke-width="1.45" fill="none" stroke-linecap="round" stroke-linejoin="round"/><path d="M1426.30 974.18L1428.90 976.88L1435.40 970.88" stroke="#d2ead7" stroke-width="1.45" fill="none" stroke-linecap="round" stroke-linejoin="round"/><path d="M1450.30 974.18L1452.90 976.88L1459.40 970.88" stroke="#d2ead7" stroke-width="1.45" fill="none" stroke-linecap="round" stroke-linejoin="round"/><path d="M1474.30 974.18L1476.90 976.88L1483.40 970.88" stroke="#d2ead7" stroke-width="1.45" fill="none" stroke-linecap="round" stroke-linejoin="round"/><path d="M1498.30 974.18L1500.90 976.88L1507.40 970.88" stroke="#d2ead7" stroke-width="1.45" fill="none" stroke-linecap="round" stroke-linejoin="round"/><path d="M1522.30 974.18L1524.90 976.88L1531.40 970.88" stroke="#d2ead7" stroke-width="1.45" fill="none" stroke-linecap="round" stroke-linejoin="round"/><circle cx="1310.50" cy="1000.62" r="5.6" stroke="#fbe3da" stroke-width="1.4" fill="none" stroke-dasharray="5 2.2 1.2 2.2 4 2.5 1.2 2.2" transform="rotate(-80 1310.50 1000.62)"/><path d="M1310.50 1003.83V997.73M1308.10 1000.23L1310.50 997.73L1312.90 1000.23" stroke="#ffffff" stroke-width="1.25" fill="none" stroke-linecap="round" stroke-linejoin="round"/><circle cx="1334.50" cy="1000.62" r="5.6" stroke="#fbe3da" stroke-width="1.4" fill="none" stroke-dasharray="5 2.2 1.2 2.2 4 2.5 1.2 2.2" transform="rotate(-80 1334.50 1000.62)"/><path d="M1334.50 1003.83V997.73M1332.10 1000.23L1334.50 997.73L1336.90 1000.23" stroke="#ffffff" stroke-width="1.25" fill="none" stroke-linecap="round" stroke-linejoin="round"/><path d="M1354.30 1000.83L1356.90 1003.52L1363.40 997.52" stroke="#d2ead7" stroke-width="1.45" fill="none" stroke-linecap="round" stroke-linejoin="round"/><path d="M1378.30 1000.83L1380.90 1003.52L1387.40 997.52" stroke="#d2ead7" stroke-width="1.45" fill="none" stroke-linecap="round" stroke-linejoin="round"/><path d="M1402.30 1000.83L1404.90 1003.52L1411.40 997.52" stroke="#d2ead7" stroke-width="1.45" fill="none" stroke-linecap="round" stroke-linejoin="round"/><path d="M1426.30 1000.83L1428.90 1003.52L1435.40 997.52" stroke="#d2ead7" stroke-width="1.45" fill="none" stroke-linecap="round" stroke-linejoin="round"/><path d="M1450.30 1000.83L1452.90 1003.52L1459.40 997.52" stroke="#d2ead7" stroke-width="1.45" fill="none" stroke-linecap="round" stroke-linejoin="round"/><path d="M1474.30 1000.83L1476.90 1003.52L1483.40 997.52" stroke="#d2ead7" stroke-width="1.45" fill="none" stroke-linecap="round" stroke-linejoin="round"/><path d="M1498.30 1000.83L1500.90 1003.52L1507.40 997.52" stroke="#d2ead7" stroke-width="1.45" fill="none" stroke-linecap="round" stroke-linejoin="round"/><path d="M1522.30 1000.83L1524.90 1003.52L1531.40 997.52" stroke="#d2ead7" stroke-width="1.45" fill="none" stroke-linecap="round" stroke-linejoin="round"/><circle cx="1310.50" cy="1027.27" r="5.6" stroke="#fbe3da" stroke-width="1.4" fill="none" stroke-dasharray="5 2.2 1.2 2.2 4 2.5 1.2 2.2" transform="rotate(-80 1310.50 1027.27)"/><path d="M1310.50 1030.47V1024.37M1308.10 1026.87L1310.50 1024.37L1312.90 1026.87" stroke="#ffffff" stroke-width="1.25" fill="none" stroke-linecap="round" stroke-linejoin="round"/><circle cx="1334.50" cy="1027.27" r="5.6" stroke="#fbe3da" stroke-width="1.4" fill="none" stroke-dasharray="5 2.2 1.2 2.2 4 2.5 1.2 2.2" transform="rotate(-80 1334.50 1027.27)"/><path d="M1334.50 1030.47V1024.37M1332.10 1026.87L1334.50 1024.37L1336.90 1026.87" stroke="#ffffff" stroke-width="1.25" fill="none" stroke-linecap="round" stroke-linejoin="round"/><path d="M1354.30 1027.47L1356.90 1030.17L1363.40 1024.17" stroke="#d2ead7" stroke-width="1.45" fill="none" stroke-linecap="round" stroke-linejoin="round"/><path d="M1378.30 1027.47L1380.90 1030.17L1387.40 1024.17" stroke="#d2ead7" stroke-width="1.45" fill="none" stroke-linecap="round" stroke-linejoin="round"/><path d="M1402.30 1027.47L1404.90 1030.17L1411.40 1024.17" stroke="#d2ead7" stroke-width="1.45" fill="none" stroke-linecap="round" stroke-linejoin="round"/><path d="M1426.30 1027.47L1428.90 1030.17L1435.40 1024.17" stroke="#d2ead7" stroke-width="1.45" fill="none" stroke-linecap="round" stroke-linejoin="round"/><path d="M1450.30 1027.47L1452.90 1030.17L1459.40 1024.17" stroke="#d2ead7" stroke-width="1.45" fill="none" stroke-linecap="round" stroke-linejoin="round"/><path d="M1474.30 1027.47L1476.90 1030.17L1483.40 1024.17" stroke="#d2ead7" stroke-width="1.45" fill="none" stroke-linecap="round" stroke-linejoin="round"/><path d="M1498.30 1027.47L1500.90 1030.17L1507.40 1024.17" stroke="#d2ead7" stroke-width="1.45" fill="none" stroke-linecap="round" stroke-linejoin="round"/><path d="M1522.30 1027.47L1524.90 1030.17L1531.40 1024.17" stroke="#d2ead7" stroke-width="1.45" fill="none" stroke-linecap="round" stroke-linejoin="round"/><circle cx="1310.50" cy="1053.91" r="5.6" stroke="#fbe3da" stroke-width="1.4" fill="none" stroke-dasharray="5 2.2 1.2 2.2 4 2.5 1.2 2.2" transform="rotate(-80 1310.50 1053.91)"/><path d="M1310.50 1057.12V1051.01M1308.10 1053.51L1310.50 1051.01L1312.90 1053.51" stroke="#ffffff" stroke-width="1.25" fill="none" stroke-linecap="round" stroke-linejoin="round"/><circle cx="1334.50" cy="1053.91" r="5.6" stroke="#fbe3da" stroke-width="1.4" fill="none" stroke-dasharray="5 2.2 1.2 2.2 4 2.5 1.2 2.2" transform="rotate(-80 1334.50 1053.91)"/><path d="M1334.50 1057.12V1051.01M1332.10 1053.51L1334.50 1051.01L1336.90 1053.51" stroke="#ffffff" stroke-width="1.25" fill="none" stroke-linecap="round" stroke-linejoin="round"/><path d="M1354.30 1054.12L1356.90 1056.82L1363.40 1050.82" stroke="#d2ead7" stroke-width="1.45" fill="none" stroke-linecap="round" stroke-linejoin="round"/><path d="M1378.30 1054.12L1380.90 1056.82L1387.40 1050.82" stroke="#d2ead7" stroke-width="1.45" fill="none" stroke-linecap="round" stroke-linejoin="round"/><path d="M1402.30 1054.12L1404.90 1056.82L1411.40 1050.82" stroke="#d2ead7" stroke-width="1.45" fill="none" stroke-linecap="round" stroke-linejoin="round"/><path d="M1426.30 1054.12L1428.90 1056.82L1435.40 1050.82" stroke="#d2ead7" stroke-width="1.45" fill="none" stroke-linecap="round" stroke-linejoin="round"/><path d="M1450.30 1054.12L1452.90 1056.82L1459.40 1050.82" stroke="#d2ead7" stroke-width="1.45" fill="none" stroke-linecap="round" stroke-linejoin="round"/><path d="M1474.30 1054.12L1476.90 1056.82L1483.40 1050.82" stroke="#d2ead7" stroke-width="1.45" fill="none" stroke-linecap="round" stroke-linejoin="round"/><path d="M1498.30 1054.12L1500.90 1056.82L1507.40 1050.82" stroke="#d2ead7" stroke-width="1.45" fill="none" stroke-linecap="round" stroke-linejoin="round"/><path d="M1522.30 1054.12L1524.90 1056.82L1531.40 1050.82" stroke="#d2ead7" stroke-width="1.45" fill="none" stroke-linecap="round" stroke-linejoin="round"/><circle cx="2303.6" cy="40.4" r="6.1" stroke="#1e2b4f" stroke-width="2.2" fill="none"/><path d="M2308.4 45.3L2314.3 51.2" stroke="#1e2b4f" stroke-width="2.3" fill="none" stroke-linecap="round"/><path d="M2570.8 33.3L2585.8 43.2L2570.8 53.1Z" stroke="#141b2b" stroke-width="2.2" fill="none" stroke-linejoin="round"/><g transform="translate(1589.35,115.40) scale(0.7)" stroke="#141b2b" stroke-width="2.4" fill="none"><path d="M0 0H20.7"/><circle cx="25.3" cy="0" r="4.6"/><path d="M5.2 0V16.5Q5.2 19.9 8.6 19.9H15.4"/><circle cx="20" cy="19.9" r="4.6"/></g><path d="M2443.3 108.6L2446.8 115L2454.2 116.3L2448.7 121.6L2450 129L2443.2 125.4L2436.6 129L2437.8 121.6L2432.2 116.3L2439.8 115Z" stroke="#141b2b" stroke-width="2.0" fill="none" stroke-linejoin="round"/><path d="M2631 112.8H2649.3M2631 119.4H2649.3M2631 126H2649.3" stroke="#141b2b" stroke-width="2.0" fill="none" stroke-linecap="round"/><circle cx="1946.5" cy="203.45" r="14.4" fill="#03711a"/><path d="M1940 203.3L1944.2 207.2L1952.7 198.5" stroke="#ffffff" stroke-width="1.7" fill="none" stroke-linecap="round" stroke-linejoin="round"/><path d="M2266.9 193.8H2275.6L2283.1 201.3Q2284.3 202.5 2283.1 203.7L2276.6 210.1Q2275.4 211.3 2274.2 210.1L2266.9 202.8Z" stroke="#141b2b" stroke-width="1.6" fill="none" stroke-linejoin="round"/><circle cx="2271.2" cy="198.2" r="1" fill="#141b2b"/><g transform="translate(1605.10,441.90) scale(0.8887)" stroke="#141b2b" stroke-width="2" fill="none"><path d="M8 2v4"/><path d="M16 2v4"/><rect width="18" height="18" x="3" y="4" rx="2"/><path d="M3 10h18"/></g><path d="M1871.7 449.3L1877.5 455.4L1883.3 449.3" stroke="#2c3a5c" stroke-width="1.8" fill="none" stroke-linecap="round" stroke-linejoin="round"/><path d="M2017.50 548.25 C2027.50 548.25 2033.50 539 2047.00 519.5 L2047.00 548.25 Z" fill="#fadddd"/><path d="M1783.25 548.25 L2017.50 548.25 C2027.50 548.25 2033.50 539 2047.00 519.5" stroke="#e03c3c" stroke-width="2.6" fill="none" stroke-linecap="round"/><path d="M2489.00 548.25 C2499.00 548.25 2505.00 539 2518.50 519.5 L2518.50 548.25 Z" fill="#fadddd"/><path d="M2254.25 548.25 L2489.00 548.25 C2499.00 548.25 2505.00 539 2518.50 519.5" stroke="#e03c3c" stroke-width="2.6" fill="none" stroke-linecap="round"/><path d="M1578.8 699.2L1584.6 705L1578.8 710.8" stroke="#ffffff" stroke-width="2.2" fill="none" stroke-linecap="round" stroke-linejoin="round"/><g transform="translate(2115.45,614.10) scale(0.9000)" stroke="#ffffff" stroke-width="2" fill="none"><ellipse cx="12" cy="5" rx="9" ry="3"/><path d="M3 5V19A9 3 0 0 0 21 19V5"/><path d="M3 12A9 3 0 0 0 21 12"/></g><path d="M2550 622.2L2555.6 627.9L2561.3 622.2" stroke="#2c3a5c" stroke-width="1.8" fill="none" stroke-linecap="round" stroke-linejoin="round"/><g transform="translate(2104.40,701.70) scale(0.7779)" stroke="#141b2b" stroke-width="2" fill="none"><ellipse cx="12" cy="5" rx="9" ry="3"/><path d="M3 5V19A9 3 0 0 0 21 19V5"/><path d="M3 12A9 3 0 0 0 21 12"/></g><g transform="translate(2104.40,801.98) scale(0.7779)" stroke="#141b2b" stroke-width="2" fill="none"><ellipse cx="12" cy="5" rx="9" ry="3"/><path d="M3 5V19A9 3 0 0 0 21 19V5"/><path d="M3 12A9 3 0 0 0 21 12"/></g><g transform="translate(2104.40,902.26) scale(0.7779)" stroke="#141b2b" stroke-width="2" fill="none"><ellipse cx="12" cy="5" rx="9" ry="3"/><path d="M3 5V19A9 3 0 0 0 21 19V5"/><path d="M3 12A9 3 0 0 0 21 12"/></g><g transform="translate(2104.40,1002.54) scale(0.7779)" stroke="#141b2b" stroke-width="2" fill="none"><ellipse cx="12" cy="5" rx="9" ry="3"/><path d="M3 5V19A9 3 0 0 0 21 19V5"/><path d="M3 12A9 3 0 0 0 21 12"/></g><g transform="translate(2104.40,1102.82) scale(0.7779)" stroke="#141b2b" stroke-width="2" fill="none"><ellipse cx="12" cy="5" rx="9" ry="3"/><path d="M3 5V19A9 3 0 0 0 21 19V5"/><path d="M3 12A9 3 0 0 0 21 12"/></g><g transform="translate(2104.40,1203.10) scale(0.7779)" stroke="#141b2b" stroke-width="2" fill="none"><ellipse cx="12" cy="5" rx="9" ry="3"/><path d="M3 5V19A9 3 0 0 0 21 19V5"/><path d="M3 12A9 3 0 0 0 21 12"/></g></svg>
<div class="a" style="left:190px;top:1318px;width:2700px;height:40px;background:#000;box-shadow:0 0 60px 6px rgba(0,0,0,0.23)"></div>
</div></body></html>
